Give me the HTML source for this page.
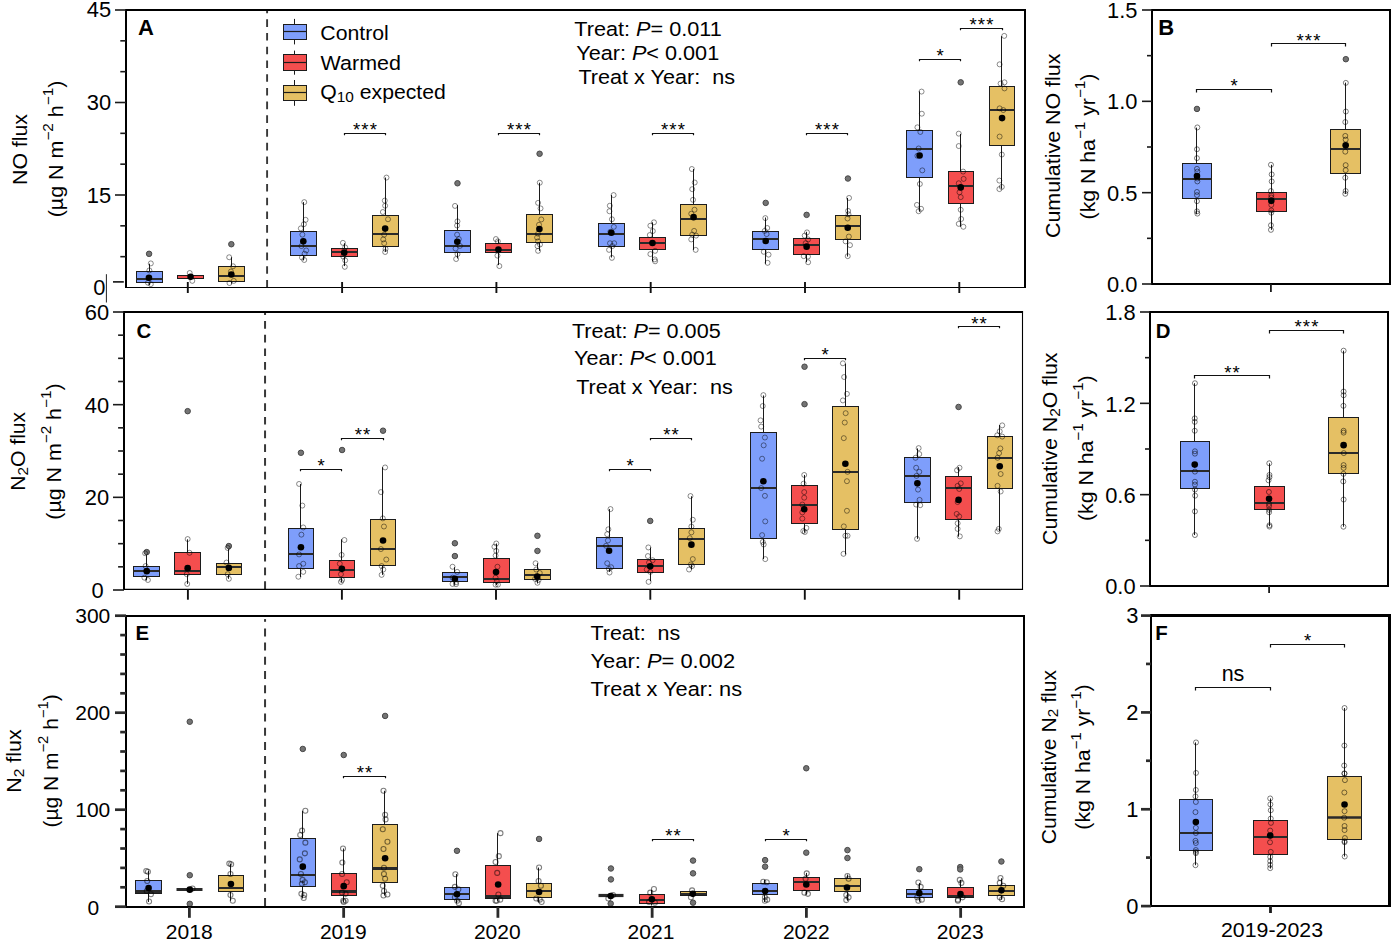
<!DOCTYPE html>
<html><head><meta charset="utf-8"><title>Figure</title>
<style>html,body{margin:0;padding:0;background:#fff}svg{display:block}text{font-family:"Liberation Sans",sans-serif;fill:#000}</style>
</head><body>
<svg width="1398" height="946" viewBox="0 0 1398 946">
<rect width="1398" height="946" fill="#fff"/>
<g id="pA">
<line x1="267.1" y1="10" x2="267.1" y2="287.5" stroke="#383838" stroke-width="1.9" stroke-dasharray="7.6 6.12" stroke-dashoffset="4.42"/>
<line x1="149.5" y1="263.69" x2="149.5" y2="271.5" stroke="#1c1c1c" stroke-width="1.0" />
<line x1="149.5" y1="282.5" x2="149.5" y2="285.15" stroke="#1c1c1c" stroke-width="1.0" />
<rect x="136.5" y="271.5" width="26" height="11" fill="#7e9efb" stroke="#1c1c1c" stroke-width="1"/>
<line x1="136.5" y1="279" x2="162.5" y2="279" stroke="#2a2a2a" stroke-width="2.0" />
<circle cx="149.08" cy="253.82" r="2.75" fill="#747474" stroke="#484848" stroke-width="1"/>
<circle cx="150.8" cy="263.4" r="2.5" fill="none" stroke="#000" stroke-opacity="0.5" stroke-width="0.9"/>
<circle cx="149.37" cy="270.41" r="2.5" fill="none" stroke="#000" stroke-opacity="0.5" stroke-width="0.9"/>
<circle cx="147.94" cy="282.72" r="2.5" fill="none" stroke="#000" stroke-opacity="0.5" stroke-width="0.9"/>
<circle cx="150.8" cy="284.15" r="2.5" fill="none" stroke="#000" stroke-opacity="0.5" stroke-width="0.9"/>
<circle cx="148.94" cy="277.71" r="3.3" fill="#000"/>
<rect x="177.5" y="275.5" width="26" height="3" fill="#f44e4e" stroke="#1c1c1c" stroke-width="1"/>
<circle cx="189.71" cy="272.99" r="2.5" fill="none" stroke="#000" stroke-opacity="0.5" stroke-width="0.9"/>
<circle cx="192.29" cy="280.86" r="2.5" fill="none" stroke="#000" stroke-opacity="0.5" stroke-width="0.9"/>
<circle cx="190.57" cy="276.85" r="3.3" fill="#000"/>
<line x1="231.5" y1="257.25" x2="231.5" y2="266.5" stroke="#1c1c1c" stroke-width="1.0" />
<line x1="231.5" y1="281.5" x2="231.5" y2="283.72" stroke="#1c1c1c" stroke-width="1.0" />
<rect x="218.5" y="266.5" width="26" height="15" fill="#e5c064" stroke="#1c1c1c" stroke-width="1"/>
<line x1="218.5" y1="276" x2="244.5" y2="276" stroke="#2a2a2a" stroke-width="2.0" />
<circle cx="231.34" cy="244.23" r="2.75" fill="#747474" stroke="#484848" stroke-width="1"/>
<circle cx="229.2" cy="257.25" r="2.5" fill="none" stroke="#000" stroke-opacity="0.5" stroke-width="0.9"/>
<circle cx="233.06" cy="266.27" r="2.5" fill="none" stroke="#000" stroke-opacity="0.5" stroke-width="0.9"/>
<circle cx="230.92" cy="271.56" r="2.5" fill="none" stroke="#000" stroke-opacity="0.5" stroke-width="0.9"/>
<circle cx="229.48" cy="283" r="2.5" fill="none" stroke="#000" stroke-opacity="0.5" stroke-width="0.9"/>
<circle cx="233.78" cy="280.86" r="2.5" fill="none" stroke="#000" stroke-opacity="0.5" stroke-width="0.9"/>
<circle cx="231.34" cy="274.56" r="3.3" fill="#000"/>
<line x1="303.5" y1="202.12" x2="303.5" y2="231.5" stroke="#1c1c1c" stroke-width="1.0" />
<line x1="303.5" y1="255.5" x2="303.5" y2="260.36" stroke="#1c1c1c" stroke-width="1.0" />
<rect x="290.5" y="231.5" width="26" height="24" fill="#7e9efb" stroke="#1c1c1c" stroke-width="1"/>
<line x1="290.5" y1="246" x2="316.5" y2="246" stroke="#2a2a2a" stroke-width="2.0" />
<circle cx="304.26" cy="202.12" r="2.5" fill="none" stroke="#000" stroke-opacity="0.5" stroke-width="0.9"/>
<circle cx="305.59" cy="219.82" r="2.5" fill="none" stroke="#000" stroke-opacity="0.5" stroke-width="0.9"/>
<circle cx="303.88" cy="224.2" r="2.5" fill="none" stroke="#000" stroke-opacity="0.5" stroke-width="0.9"/>
<circle cx="300.83" cy="228.39" r="2.5" fill="none" stroke="#000" stroke-opacity="0.5" stroke-width="0.9"/>
<circle cx="302.36" cy="234.67" r="2.5" fill="none" stroke="#000" stroke-opacity="0.5" stroke-width="0.9"/>
<circle cx="301.4" cy="246.09" r="2.5" fill="none" stroke="#000" stroke-opacity="0.5" stroke-width="0.9"/>
<circle cx="306.16" cy="250.46" r="2.5" fill="none" stroke="#000" stroke-opacity="0.5" stroke-width="0.9"/>
<circle cx="304.64" cy="253.7" r="2.5" fill="none" stroke="#000" stroke-opacity="0.5" stroke-width="0.9"/>
<circle cx="301.98" cy="257.51" r="2.5" fill="none" stroke="#000" stroke-opacity="0.5" stroke-width="0.9"/>
<circle cx="304.26" cy="259.98" r="2.5" fill="none" stroke="#000" stroke-opacity="0.5" stroke-width="0.9"/>
<circle cx="303.31" cy="241.33" r="3.3" fill="#000"/>
<line x1="344.5" y1="243.23" x2="344.5" y2="248.5" stroke="#1c1c1c" stroke-width="1.0" />
<line x1="344.5" y1="256.5" x2="344.5" y2="266.07" stroke="#1c1c1c" stroke-width="1.0" />
<rect x="331.5" y="248.5" width="26" height="8" fill="#f44e4e" stroke="#1c1c1c" stroke-width="1"/>
<line x1="331.5" y1="252" x2="357.5" y2="252" stroke="#2a2a2a" stroke-width="2.0" />
<circle cx="342.9" cy="242.85" r="2.5" fill="none" stroke="#000" stroke-opacity="0.5" stroke-width="0.9"/>
<circle cx="345.18" cy="247.42" r="2.5" fill="none" stroke="#000" stroke-opacity="0.5" stroke-width="0.9"/>
<circle cx="344.23" cy="250.85" r="2.5" fill="none" stroke="#000" stroke-opacity="0.5" stroke-width="0.9"/>
<circle cx="343.28" cy="256.56" r="2.5" fill="none" stroke="#000" stroke-opacity="0.5" stroke-width="0.9"/>
<circle cx="345.18" cy="260.36" r="2.5" fill="none" stroke="#000" stroke-opacity="0.5" stroke-width="0.9"/>
<circle cx="344.8" cy="266.83" r="2.5" fill="none" stroke="#000" stroke-opacity="0.5" stroke-width="0.9"/>
<circle cx="344.23" cy="252.75" r="3.3" fill="#000"/>
<line x1="385.5" y1="177.57" x2="385.5" y2="215.5" stroke="#1c1c1c" stroke-width="1.0" />
<line x1="385.5" y1="246.5" x2="385.5" y2="251.8" stroke="#1c1c1c" stroke-width="1.0" />
<rect x="372.5" y="215.5" width="26" height="31" fill="#e5c064" stroke="#1c1c1c" stroke-width="1"/>
<line x1="372.5" y1="234" x2="398.5" y2="234" stroke="#2a2a2a" stroke-width="2.0" />
<circle cx="386.48" cy="177.57" r="2.5" fill="none" stroke="#000" stroke-opacity="0.5" stroke-width="0.9"/>
<circle cx="384.77" cy="200.6" r="2.5" fill="none" stroke="#000" stroke-opacity="0.5" stroke-width="0.9"/>
<circle cx="385.15" cy="205.74" r="2.5" fill="none" stroke="#000" stroke-opacity="0.5" stroke-width="0.9"/>
<circle cx="382.87" cy="212.02" r="2.5" fill="none" stroke="#000" stroke-opacity="0.5" stroke-width="0.9"/>
<circle cx="388.01" cy="219.25" r="2.5" fill="none" stroke="#000" stroke-opacity="0.5" stroke-width="0.9"/>
<circle cx="384.2" cy="234.67" r="2.5" fill="none" stroke="#000" stroke-opacity="0.5" stroke-width="0.9"/>
<circle cx="383.25" cy="239.43" r="2.5" fill="none" stroke="#000" stroke-opacity="0.5" stroke-width="0.9"/>
<circle cx="384.2" cy="243.23" r="2.5" fill="none" stroke="#000" stroke-opacity="0.5" stroke-width="0.9"/>
<circle cx="385.53" cy="248.94" r="2.5" fill="none" stroke="#000" stroke-opacity="0.5" stroke-width="0.9"/>
<circle cx="385.15" cy="251.99" r="2.5" fill="none" stroke="#000" stroke-opacity="0.5" stroke-width="0.9"/>
<circle cx="385.15" cy="228.58" r="3.3" fill="#000"/>
<line x1="457.5" y1="205.17" x2="457.5" y2="230.5" stroke="#1c1c1c" stroke-width="1.0" />
<line x1="457.5" y1="252.5" x2="457.5" y2="258.46" stroke="#1c1c1c" stroke-width="1.0" />
<rect x="444.5" y="230.5" width="26" height="22" fill="#7e9efb" stroke="#1c1c1c" stroke-width="1"/>
<line x1="444.5" y1="246" x2="470.5" y2="246" stroke="#2a2a2a" stroke-width="2.0" />
<circle cx="457.48" cy="183.28" r="2.75" fill="#747474" stroke="#484848" stroke-width="1"/>
<circle cx="455" cy="205.93" r="2.5" fill="none" stroke="#000" stroke-opacity="0.5" stroke-width="0.9"/>
<circle cx="457.48" cy="221.34" r="2.5" fill="none" stroke="#000" stroke-opacity="0.5" stroke-width="0.9"/>
<circle cx="457.1" cy="225.53" r="2.5" fill="none" stroke="#000" stroke-opacity="0.5" stroke-width="0.9"/>
<circle cx="457.1" cy="234.67" r="2.5" fill="none" stroke="#000" stroke-opacity="0.5" stroke-width="0.9"/>
<circle cx="458.81" cy="239.04" r="2.5" fill="none" stroke="#000" stroke-opacity="0.5" stroke-width="0.9"/>
<circle cx="459.95" cy="245.9" r="2.5" fill="none" stroke="#000" stroke-opacity="0.5" stroke-width="0.9"/>
<circle cx="455.57" cy="248.56" r="2.5" fill="none" stroke="#000" stroke-opacity="0.5" stroke-width="0.9"/>
<circle cx="457.48" cy="254.08" r="2.5" fill="none" stroke="#000" stroke-opacity="0.5" stroke-width="0.9"/>
<circle cx="456.14" cy="259.03" r="2.5" fill="none" stroke="#000" stroke-opacity="0.5" stroke-width="0.9"/>
<circle cx="457.29" cy="241.71" r="3.3" fill="#000"/>
<line x1="498.5" y1="239.43" x2="498.5" y2="243.5" stroke="#1c1c1c" stroke-width="1.0" />
<line x1="498.5" y1="252.5" x2="498.5" y2="265.12" stroke="#1c1c1c" stroke-width="1.0" />
<rect x="485.5" y="243.5" width="26" height="9" fill="#f44e4e" stroke="#1c1c1c" stroke-width="1"/>
<line x1="485.5" y1="250" x2="511.5" y2="250" stroke="#2a2a2a" stroke-width="2.0" />
<circle cx="495.92" cy="239.04" r="2.5" fill="none" stroke="#000" stroke-opacity="0.5" stroke-width="0.9"/>
<circle cx="497.83" cy="241.33" r="2.5" fill="none" stroke="#000" stroke-opacity="0.5" stroke-width="0.9"/>
<circle cx="497.45" cy="255.6" r="2.5" fill="none" stroke="#000" stroke-opacity="0.5" stroke-width="0.9"/>
<circle cx="499.35" cy="266.07" r="2.5" fill="none" stroke="#000" stroke-opacity="0.5" stroke-width="0.9"/>
<circle cx="498.4" cy="249.51" r="3.3" fill="#000"/>
<line x1="539.5" y1="182.71" x2="539.5" y2="214.5" stroke="#1c1c1c" stroke-width="1.0" />
<line x1="539.5" y1="242.5" x2="539.5" y2="250.85" stroke="#1c1c1c" stroke-width="1.0" />
<rect x="526.5" y="214.5" width="26" height="28" fill="#e5c064" stroke="#1c1c1c" stroke-width="1"/>
<line x1="526.5" y1="234" x2="552.5" y2="234" stroke="#2a2a2a" stroke-width="2.0" />
<circle cx="539.59" cy="153.78" r="2.75" fill="#747474" stroke="#484848" stroke-width="1"/>
<circle cx="539.78" cy="182.71" r="2.5" fill="none" stroke="#000" stroke-opacity="0.5" stroke-width="0.9"/>
<circle cx="538.07" cy="202.88" r="2.5" fill="none" stroke="#000" stroke-opacity="0.5" stroke-width="0.9"/>
<circle cx="540.54" cy="208.4" r="2.5" fill="none" stroke="#000" stroke-opacity="0.5" stroke-width="0.9"/>
<circle cx="541.3" cy="219.44" r="2.5" fill="none" stroke="#000" stroke-opacity="0.5" stroke-width="0.9"/>
<circle cx="539.02" cy="224.77" r="2.5" fill="none" stroke="#000" stroke-opacity="0.5" stroke-width="0.9"/>
<circle cx="538.07" cy="233.72" r="2.5" fill="none" stroke="#000" stroke-opacity="0.5" stroke-width="0.9"/>
<circle cx="537.11" cy="237.52" r="2.5" fill="none" stroke="#000" stroke-opacity="0.5" stroke-width="0.9"/>
<circle cx="538.07" cy="241.33" r="2.5" fill="none" stroke="#000" stroke-opacity="0.5" stroke-width="0.9"/>
<circle cx="537.5" cy="246.09" r="2.5" fill="none" stroke="#000" stroke-opacity="0.5" stroke-width="0.9"/>
<circle cx="539.97" cy="244.56" r="2.5" fill="none" stroke="#000" stroke-opacity="0.5" stroke-width="0.9"/>
<circle cx="538.07" cy="250.85" r="2.5" fill="none" stroke="#000" stroke-opacity="0.5" stroke-width="0.9"/>
<circle cx="539.4" cy="228.96" r="3.3" fill="#000"/>
<line x1="611.5" y1="195.08" x2="611.5" y2="223.5" stroke="#1c1c1c" stroke-width="1.0" />
<line x1="611.5" y1="246.5" x2="611.5" y2="257.51" stroke="#1c1c1c" stroke-width="1.0" />
<rect x="598.5" y="223.5" width="26" height="23" fill="#7e9efb" stroke="#1c1c1c" stroke-width="1"/>
<line x1="598.5" y1="234" x2="624.5" y2="234" stroke="#2a2a2a" stroke-width="2.0" />
<circle cx="613.63" cy="195.08" r="2.5" fill="none" stroke="#000" stroke-opacity="0.5" stroke-width="0.9"/>
<circle cx="609.82" cy="205.74" r="2.5" fill="none" stroke="#000" stroke-opacity="0.5" stroke-width="0.9"/>
<circle cx="609.44" cy="211.26" r="2.5" fill="none" stroke="#000" stroke-opacity="0.5" stroke-width="0.9"/>
<circle cx="611.91" cy="219.25" r="2.5" fill="none" stroke="#000" stroke-opacity="0.5" stroke-width="0.9"/>
<circle cx="613.82" cy="226.86" r="2.5" fill="none" stroke="#000" stroke-opacity="0.5" stroke-width="0.9"/>
<circle cx="610.39" cy="231.81" r="2.5" fill="none" stroke="#000" stroke-opacity="0.5" stroke-width="0.9"/>
<circle cx="610.01" cy="243.23" r="2.5" fill="none" stroke="#000" stroke-opacity="0.5" stroke-width="0.9"/>
<circle cx="614.2" cy="243.23" r="2.5" fill="none" stroke="#000" stroke-opacity="0.5" stroke-width="0.9"/>
<circle cx="612.3" cy="246.09" r="2.5" fill="none" stroke="#000" stroke-opacity="0.5" stroke-width="0.9"/>
<circle cx="609.06" cy="249.89" r="2.5" fill="none" stroke="#000" stroke-opacity="0.5" stroke-width="0.9"/>
<circle cx="611.91" cy="257.89" r="2.5" fill="none" stroke="#000" stroke-opacity="0.5" stroke-width="0.9"/>
<circle cx="611.34" cy="232.76" r="3.3" fill="#000"/>
<line x1="652.5" y1="222.3" x2="652.5" y2="237.5" stroke="#1c1c1c" stroke-width="1.0" />
<line x1="652.5" y1="249.5" x2="652.5" y2="261.31" stroke="#1c1c1c" stroke-width="1.0" />
<rect x="639.5" y="237.5" width="26" height="12" fill="#f44e4e" stroke="#1c1c1c" stroke-width="1"/>
<line x1="639.5" y1="243" x2="665.5" y2="243" stroke="#2a2a2a" stroke-width="2.0" />
<circle cx="653.98" cy="222.3" r="2.5" fill="none" stroke="#000" stroke-opacity="0.5" stroke-width="0.9"/>
<circle cx="650.36" cy="225.72" r="2.5" fill="none" stroke="#000" stroke-opacity="0.5" stroke-width="0.9"/>
<circle cx="652.84" cy="231.05" r="2.5" fill="none" stroke="#000" stroke-opacity="0.5" stroke-width="0.9"/>
<circle cx="649.79" cy="235.05" r="2.5" fill="none" stroke="#000" stroke-opacity="0.5" stroke-width="0.9"/>
<circle cx="655.12" cy="250.85" r="2.5" fill="none" stroke="#000" stroke-opacity="0.5" stroke-width="0.9"/>
<circle cx="650.36" cy="254.08" r="2.5" fill="none" stroke="#000" stroke-opacity="0.5" stroke-width="0.9"/>
<circle cx="654.74" cy="259.41" r="2.5" fill="none" stroke="#000" stroke-opacity="0.5" stroke-width="0.9"/>
<circle cx="655.12" cy="261.31" r="2.5" fill="none" stroke="#000" stroke-opacity="0.5" stroke-width="0.9"/>
<circle cx="652.46" cy="243.04" r="3.3" fill="#000"/>
<line x1="693.5" y1="169" x2="693.5" y2="204.5" stroke="#1c1c1c" stroke-width="1.0" />
<line x1="693.5" y1="235.5" x2="693.5" y2="249.89" stroke="#1c1c1c" stroke-width="1.0" />
<rect x="680.5" y="204.5" width="26" height="31" fill="#e5c064" stroke="#1c1c1c" stroke-width="1"/>
<line x1="680.5" y1="219" x2="706.5" y2="219" stroke="#2a2a2a" stroke-width="2.0" />
<circle cx="691.85" cy="169" r="2.5" fill="none" stroke="#000" stroke-opacity="0.5" stroke-width="0.9"/>
<circle cx="694.71" cy="182.52" r="2.5" fill="none" stroke="#000" stroke-opacity="0.5" stroke-width="0.9"/>
<circle cx="692.23" cy="189.18" r="2.5" fill="none" stroke="#000" stroke-opacity="0.5" stroke-width="0.9"/>
<circle cx="693" cy="199.84" r="2.5" fill="none" stroke="#000" stroke-opacity="0.5" stroke-width="0.9"/>
<circle cx="694.52" cy="209.73" r="2.5" fill="none" stroke="#000" stroke-opacity="0.5" stroke-width="0.9"/>
<circle cx="691.28" cy="213.73" r="2.5" fill="none" stroke="#000" stroke-opacity="0.5" stroke-width="0.9"/>
<circle cx="694.14" cy="230.86" r="2.5" fill="none" stroke="#000" stroke-opacity="0.5" stroke-width="0.9"/>
<circle cx="692.23" cy="234.67" r="2.5" fill="none" stroke="#000" stroke-opacity="0.5" stroke-width="0.9"/>
<circle cx="696.04" cy="235.62" r="2.5" fill="none" stroke="#000" stroke-opacity="0.5" stroke-width="0.9"/>
<circle cx="691.28" cy="239.43" r="2.5" fill="none" stroke="#000" stroke-opacity="0.5" stroke-width="0.9"/>
<circle cx="695.66" cy="249.89" r="2.5" fill="none" stroke="#000" stroke-opacity="0.5" stroke-width="0.9"/>
<circle cx="693.57" cy="217.16" r="3.3" fill="#000"/>
<line x1="765.5" y1="217.54" x2="765.5" y2="231.5" stroke="#1c1c1c" stroke-width="1.0" />
<line x1="765.5" y1="249.5" x2="765.5" y2="263.79" stroke="#1c1c1c" stroke-width="1.0" />
<rect x="752.5" y="231.5" width="26" height="18" fill="#7e9efb" stroke="#1c1c1c" stroke-width="1"/>
<line x1="752.5" y1="239" x2="778.5" y2="239" stroke="#2a2a2a" stroke-width="2.0" />
<circle cx="765.69" cy="202.88" r="2.75" fill="#747474" stroke="#484848" stroke-width="1"/>
<circle cx="765.31" cy="218.11" r="2.5" fill="none" stroke="#000" stroke-opacity="0.5" stroke-width="0.9"/>
<circle cx="767.22" cy="228.01" r="2.5" fill="none" stroke="#000" stroke-opacity="0.5" stroke-width="0.9"/>
<circle cx="764.74" cy="230.86" r="2.5" fill="none" stroke="#000" stroke-opacity="0.5" stroke-width="0.9"/>
<circle cx="766.65" cy="234.1" r="2.5" fill="none" stroke="#000" stroke-opacity="0.5" stroke-width="0.9"/>
<circle cx="763.79" cy="251.8" r="2.5" fill="none" stroke="#000" stroke-opacity="0.5" stroke-width="0.9"/>
<circle cx="768.55" cy="254.65" r="2.5" fill="none" stroke="#000" stroke-opacity="0.5" stroke-width="0.9"/>
<circle cx="767.6" cy="262.84" r="2.5" fill="none" stroke="#000" stroke-opacity="0.5" stroke-width="0.9"/>
<circle cx="765.69" cy="240.95" r="3.3" fill="#000"/>
<line x1="806.5" y1="231.81" x2="806.5" y2="238.5" stroke="#1c1c1c" stroke-width="1.0" />
<line x1="806.5" y1="254.5" x2="806.5" y2="262.26" stroke="#1c1c1c" stroke-width="1.0" />
<rect x="793.5" y="238.5" width="26" height="16" fill="#f44e4e" stroke="#1c1c1c" stroke-width="1"/>
<line x1="793.5" y1="245" x2="819.5" y2="245" stroke="#2a2a2a" stroke-width="2.0" />
<circle cx="806.62" cy="214.87" r="2.75" fill="#747474" stroke="#484848" stroke-width="1"/>
<circle cx="807" cy="232.38" r="2.5" fill="none" stroke="#000" stroke-opacity="0.5" stroke-width="0.9"/>
<circle cx="804.71" cy="235.62" r="2.5" fill="none" stroke="#000" stroke-opacity="0.5" stroke-width="0.9"/>
<circle cx="808.14" cy="239.43" r="2.5" fill="none" stroke="#000" stroke-opacity="0.5" stroke-width="0.9"/>
<circle cx="805.66" cy="243.23" r="2.5" fill="none" stroke="#000" stroke-opacity="0.5" stroke-width="0.9"/>
<circle cx="803.76" cy="256.17" r="2.5" fill="none" stroke="#000" stroke-opacity="0.5" stroke-width="0.9"/>
<circle cx="807.95" cy="256.56" r="2.5" fill="none" stroke="#000" stroke-opacity="0.5" stroke-width="0.9"/>
<circle cx="808.14" cy="262.26" r="2.5" fill="none" stroke="#000" stroke-opacity="0.5" stroke-width="0.9"/>
<circle cx="806.62" cy="246.66" r="3.3" fill="#000"/>
<line x1="847.5" y1="197.93" x2="847.5" y2="215.5" stroke="#1c1c1c" stroke-width="1.0" />
<line x1="847.5" y1="239.5" x2="847.5" y2="256.56" stroke="#1c1c1c" stroke-width="1.0" />
<rect x="835.5" y="215.5" width="25" height="24" fill="#e5c064" stroke="#1c1c1c" stroke-width="1"/>
<line x1="835.5" y1="226" x2="860.5" y2="226" stroke="#2a2a2a" stroke-width="2.0" />
<circle cx="847.92" cy="178.52" r="2.75" fill="#747474" stroke="#484848" stroke-width="1"/>
<circle cx="849.06" cy="197.93" r="2.5" fill="none" stroke="#000" stroke-opacity="0.5" stroke-width="0.9"/>
<circle cx="848.11" cy="210.88" r="2.5" fill="none" stroke="#000" stroke-opacity="0.5" stroke-width="0.9"/>
<circle cx="848.49" cy="214.3" r="2.5" fill="none" stroke="#000" stroke-opacity="0.5" stroke-width="0.9"/>
<circle cx="847.54" cy="218.49" r="2.5" fill="none" stroke="#000" stroke-opacity="0.5" stroke-width="0.9"/>
<circle cx="848.87" cy="236.57" r="2.5" fill="none" stroke="#000" stroke-opacity="0.5" stroke-width="0.9"/>
<circle cx="845.63" cy="241.33" r="2.5" fill="none" stroke="#000" stroke-opacity="0.5" stroke-width="0.9"/>
<circle cx="850.01" cy="245.14" r="2.5" fill="none" stroke="#000" stroke-opacity="0.5" stroke-width="0.9"/>
<circle cx="847.73" cy="256.17" r="2.5" fill="none" stroke="#000" stroke-opacity="0.5" stroke-width="0.9"/>
<circle cx="847.73" cy="227.81" r="3.3" fill="#000"/>
<line x1="919.5" y1="91.33" x2="919.5" y2="130.5" stroke="#1c1c1c" stroke-width="1.0" />
<line x1="919.5" y1="177.5" x2="919.5" y2="211.71" stroke="#1c1c1c" stroke-width="1.0" />
<rect x="906.5" y="130.5" width="26" height="47" fill="#7e9efb" stroke="#1c1c1c" stroke-width="1"/>
<line x1="906.5" y1="149" x2="932.5" y2="149" stroke="#2a2a2a" stroke-width="2.0" />
<circle cx="921.56" cy="91.58" r="2.5" fill="none" stroke="#000" stroke-opacity="0.5" stroke-width="0.9"/>
<circle cx="921.8" cy="113.71" r="2.5" fill="none" stroke="#000" stroke-opacity="0.5" stroke-width="0.9"/>
<circle cx="917.42" cy="127.32" r="2.5" fill="none" stroke="#000" stroke-opacity="0.5" stroke-width="0.9"/>
<circle cx="920.34" cy="131.95" r="2.5" fill="none" stroke="#000" stroke-opacity="0.5" stroke-width="0.9"/>
<circle cx="918.64" cy="148.48" r="2.5" fill="none" stroke="#000" stroke-opacity="0.5" stroke-width="0.9"/>
<circle cx="917.42" cy="155.78" r="2.5" fill="none" stroke="#000" stroke-opacity="0.5" stroke-width="0.9"/>
<circle cx="922.29" cy="170.37" r="2.5" fill="none" stroke="#000" stroke-opacity="0.5" stroke-width="0.9"/>
<circle cx="919.85" cy="183.99" r="2.5" fill="none" stroke="#000" stroke-opacity="0.5" stroke-width="0.9"/>
<circle cx="916.94" cy="204.9" r="2.5" fill="none" stroke="#000" stroke-opacity="0.5" stroke-width="0.9"/>
<circle cx="921.07" cy="208.79" r="2.5" fill="none" stroke="#000" stroke-opacity="0.5" stroke-width="0.9"/>
<circle cx="918.64" cy="211.23" r="2.5" fill="none" stroke="#000" stroke-opacity="0.5" stroke-width="0.9"/>
<circle cx="919.61" cy="155.54" r="3.3" fill="#000"/>
<line x1="960.5" y1="133.89" x2="960.5" y2="171.5" stroke="#1c1c1c" stroke-width="1.0" />
<line x1="960.5" y1="203.5" x2="960.5" y2="226.79" stroke="#1c1c1c" stroke-width="1.0" />
<rect x="948.5" y="171.5" width="25" height="32" fill="#f44e4e" stroke="#1c1c1c" stroke-width="1"/>
<line x1="948.5" y1="186" x2="973.5" y2="186" stroke="#2a2a2a" stroke-width="2.0" />
<circle cx="960.71" cy="82.33" r="2.75" fill="#747474" stroke="#484848" stroke-width="1"/>
<circle cx="958.76" cy="133.65" r="2.5" fill="none" stroke="#000" stroke-opacity="0.5" stroke-width="0.9"/>
<circle cx="958.76" cy="146.05" r="2.5" fill="none" stroke="#000" stroke-opacity="0.5" stroke-width="0.9"/>
<circle cx="963.14" cy="171.59" r="2.5" fill="none" stroke="#000" stroke-opacity="0.5" stroke-width="0.9"/>
<circle cx="963.63" cy="178.88" r="2.5" fill="none" stroke="#000" stroke-opacity="0.5" stroke-width="0.9"/>
<circle cx="958.76" cy="183.26" r="2.5" fill="none" stroke="#000" stroke-opacity="0.5" stroke-width="0.9"/>
<circle cx="959.49" cy="192.26" r="2.5" fill="none" stroke="#000" stroke-opacity="0.5" stroke-width="0.9"/>
<circle cx="960.71" cy="197.12" r="2.5" fill="none" stroke="#000" stroke-opacity="0.5" stroke-width="0.9"/>
<circle cx="960.71" cy="209.77" r="2.5" fill="none" stroke="#000" stroke-opacity="0.5" stroke-width="0.9"/>
<circle cx="961.2" cy="219.01" r="2.5" fill="none" stroke="#000" stroke-opacity="0.5" stroke-width="0.9"/>
<circle cx="958.76" cy="223.87" r="2.5" fill="none" stroke="#000" stroke-opacity="0.5" stroke-width="0.9"/>
<circle cx="963.39" cy="226.79" r="2.5" fill="none" stroke="#000" stroke-opacity="0.5" stroke-width="0.9"/>
<circle cx="960.71" cy="187.39" r="3.3" fill="#000"/>
<line x1="1001.5" y1="36.13" x2="1001.5" y2="86.5" stroke="#1c1c1c" stroke-width="1.0" />
<line x1="1001.5" y1="145.5" x2="1001.5" y2="188.61" stroke="#1c1c1c" stroke-width="1.0" />
<rect x="989.5" y="86.5" width="25" height="59" fill="#e5c064" stroke="#1c1c1c" stroke-width="1"/>
<line x1="989.5" y1="110" x2="1014.5" y2="110" stroke="#2a2a2a" stroke-width="2.0" />
<circle cx="1004.24" cy="35.89" r="2.5" fill="none" stroke="#000" stroke-opacity="0.5" stroke-width="0.9"/>
<circle cx="999.62" cy="64.34" r="2.5" fill="none" stroke="#000" stroke-opacity="0.5" stroke-width="0.9"/>
<circle cx="1004.48" cy="82.33" r="2.5" fill="none" stroke="#000" stroke-opacity="0.5" stroke-width="0.9"/>
<circle cx="1000.59" cy="83.55" r="2.5" fill="none" stroke="#000" stroke-opacity="0.5" stroke-width="0.9"/>
<circle cx="1004.48" cy="88.41" r="2.5" fill="none" stroke="#000" stroke-opacity="0.5" stroke-width="0.9"/>
<circle cx="999.62" cy="108.36" r="2.5" fill="none" stroke="#000" stroke-opacity="0.5" stroke-width="0.9"/>
<circle cx="1003.27" cy="110.06" r="2.5" fill="none" stroke="#000" stroke-opacity="0.5" stroke-width="0.9"/>
<circle cx="999.62" cy="136.57" r="2.5" fill="none" stroke="#000" stroke-opacity="0.5" stroke-width="0.9"/>
<circle cx="1001.81" cy="154.56" r="2.5" fill="none" stroke="#000" stroke-opacity="0.5" stroke-width="0.9"/>
<circle cx="999.38" cy="180.58" r="2.5" fill="none" stroke="#000" stroke-opacity="0.5" stroke-width="0.9"/>
<circle cx="1001.81" cy="186.91" r="2.5" fill="none" stroke="#000" stroke-opacity="0.5" stroke-width="0.9"/>
<circle cx="999.38" cy="189.1" r="2.5" fill="none" stroke="#000" stroke-opacity="0.5" stroke-width="0.9"/>
<circle cx="1002.05" cy="118.08" r="3.3" fill="#000"/>
<line x1="126" y1="9" x2="126" y2="288.1" stroke="#000" stroke-width="2" />
<line x1="1025" y1="9" x2="1025" y2="288.1" stroke="#000" stroke-width="2" />
<line x1="125" y1="10" x2="1026" y2="10" stroke="#000" stroke-width="2" />
<line x1="125" y1="287.5" x2="1026" y2="287.5" stroke="#000" stroke-width="1.2" />
<line x1="120.3" y1="256.67" x2="126" y2="256.67" stroke="#1a1a1a" stroke-width="1.6" />
<line x1="120.3" y1="225.83" x2="126" y2="225.83" stroke="#1a1a1a" stroke-width="1.6" />
<line x1="115" y1="195" x2="126" y2="195" stroke="#1a1a1a" stroke-width="1.6" />
<text x="111.2" y="202.88" font-size="21.9" text-anchor="end" >15</text>
<line x1="120.3" y1="164.17" x2="126" y2="164.17" stroke="#1a1a1a" stroke-width="1.6" />
<line x1="120.3" y1="133.33" x2="126" y2="133.33" stroke="#1a1a1a" stroke-width="1.6" />
<line x1="115" y1="102.5" x2="126" y2="102.5" stroke="#1a1a1a" stroke-width="1.6" />
<text x="111.2" y="110.38" font-size="21.9" text-anchor="end" >30</text>
<line x1="120.3" y1="71.67" x2="126" y2="71.67" stroke="#1a1a1a" stroke-width="1.6" />
<line x1="120.3" y1="40.83" x2="126" y2="40.83" stroke="#1a1a1a" stroke-width="1.6" />
<line x1="115" y1="10" x2="126" y2="10" stroke="#1a1a1a" stroke-width="1.6" />
<text x="111.2" y="16.78" font-size="21.9" text-anchor="end" >45</text>
<line x1="113" y1="281.9" x2="123.8" y2="281.9" stroke="#000" stroke-width="1.5" />
<text x="105.4" y="295.38" font-size="21.9" text-anchor="end" >0</text>
<line x1="106.4" y1="274.2" x2="106.4" y2="302.5" stroke="#222" stroke-width="1.0" />
<line x1="187.8" y1="282" x2="187.8" y2="293" stroke="#111" stroke-width="1.9" />
<line x1="342.1" y1="282" x2="342.1" y2="293" stroke="#111" stroke-width="1.9" />
<line x1="496.4" y1="282" x2="496.4" y2="293" stroke="#111" stroke-width="1.9" />
<line x1="650.7" y1="282" x2="650.7" y2="293" stroke="#111" stroke-width="1.9" />
<line x1="805" y1="282" x2="805" y2="293" stroke="#111" stroke-width="1.9" />
<line x1="959.3" y1="282" x2="959.3" y2="293" stroke="#111" stroke-width="1.9" />
<text x="138" y="34.8" font-size="22" text-anchor="start" font-weight="bold">A</text>
<line x1="294.5" y1="18.9" x2="294.5" y2="44.4" stroke="#1c1c1c" stroke-width="1.0" />
<rect x="283.5" y="24.5" width="23" height="15" fill="#7e9efb" stroke="#1c1c1c" stroke-width="1"/>
<line x1="283.5" y1="31.5" x2="306.5" y2="31.5" stroke="#1c1c1c" stroke-width="1.2" />
<line x1="294.5" y1="50.6" x2="294.5" y2="74.7" stroke="#1c1c1c" stroke-width="1.0" />
<rect x="283.5" y="54.5" width="23" height="16" fill="#f44e4e" stroke="#1c1c1c" stroke-width="1"/>
<line x1="283.5" y1="62.5" x2="306.5" y2="62.5" stroke="#1c1c1c" stroke-width="1.2" />
<line x1="294.5" y1="80" x2="294.5" y2="105.8" stroke="#1c1c1c" stroke-width="1.0" />
<rect x="283.5" y="85.5" width="23" height="15" fill="#e5c064" stroke="#1c1c1c" stroke-width="1"/>
<line x1="283.5" y1="92.5" x2="306.5" y2="92.5" stroke="#1c1c1c" stroke-width="1.2" />
<text x="320.3" y="39.9" font-size="20.1" text-anchor="start" textLength="68.5" lengthAdjust="spacingAndGlyphs" >Control</text>
<text x="320.6" y="69.9" font-size="20.1" text-anchor="start" textLength="80.3" lengthAdjust="spacingAndGlyphs" >Warmed</text>
<text x="320.3" y="98.8" font-size="20.1" text-anchor="start" textLength="125.5" lengthAdjust="spacingAndGlyphs" xml:space="preserve">Q<tspan dy="2.8" font-size="14.6">10</tspan><tspan dy="-2.8"> expected</tspan></text>
<text x="574.3" y="35.7" font-size="20.1" text-anchor="start" textLength="147.5" lengthAdjust="spacingAndGlyphs" >Treat: <tspan font-style="italic">P</tspan>= 0.011</text>
<text x="576.2" y="59.9" font-size="20.1" text-anchor="start" textLength="143" lengthAdjust="spacingAndGlyphs" >Year: <tspan font-style="italic">P</tspan>&lt; 0.001</text>
<text x="578.4" y="84.4" font-size="20.1" text-anchor="start" textLength="156.6" lengthAdjust="spacingAndGlyphs" xml:space="preserve">Treat x Year:  ns</text>
<polyline points="344.5,135.2 344.5,133.5 385.5,133.5 385.5,135.2" fill="none" stroke="#111" stroke-width="1.2"/>
<text x="365.55" y="136.25" font-size="18.6" letter-spacing="1.1" text-anchor="middle">***</text>
<polyline points="498.5,135.2 498.5,133.5 539.5,133.5 539.5,135.2" fill="none" stroke="#111" stroke-width="1.2"/>
<text x="519.55" y="136.25" font-size="18.6" letter-spacing="1.1" text-anchor="middle">***</text>
<polyline points="652.5,135.2 652.5,133.5 693.5,133.5 693.5,135.2" fill="none" stroke="#111" stroke-width="1.2"/>
<text x="673.55" y="136.25" font-size="18.6" letter-spacing="1.1" text-anchor="middle">***</text>
<polyline points="806.5,135.2 806.5,133.5 847.5,133.5 847.5,135.2" fill="none" stroke="#111" stroke-width="1.2"/>
<text x="827.55" y="136.25" font-size="18.6" letter-spacing="1.1" text-anchor="middle">***</text>
<polyline points="919.5,61.2 919.5,59.5 960.5,59.5 960.5,61.2" fill="none" stroke="#111" stroke-width="1.2"/>
<text x="940.55" y="61.95" font-size="18.6" letter-spacing="1.1" text-anchor="middle">*</text>
<polyline points="960.5,30.2 960.5,28.5 1002.5,28.5 1002.5,30.2" fill="none" stroke="#111" stroke-width="1.2"/>
<text x="982.05" y="31.05" font-size="18.6" letter-spacing="1.1" text-anchor="middle">***</text>
</g>
<g id="pB">
<line x1="1196.5" y1="127.61" x2="1196.5" y2="163.5" stroke="#1c1c1c" stroke-width="1.0" />
<line x1="1196.5" y1="198.5" x2="1196.5" y2="214.15" stroke="#1c1c1c" stroke-width="1.0" />
<rect x="1182.5" y="163.5" width="29" height="35" fill="#7e9efb" stroke="#1c1c1c" stroke-width="1"/>
<line x1="1182.5" y1="179" x2="1211.5" y2="179" stroke="#2a2a2a" stroke-width="2.0" />
<circle cx="1196.96" cy="108.93" r="2.75" fill="#747474" stroke="#484848" stroke-width="1"/>
<circle cx="1197.33" cy="127.43" r="2.5" fill="none" stroke="#000" stroke-opacity="0.5" stroke-width="1.0"/>
<circle cx="1196.96" cy="149.25" r="2.5" fill="none" stroke="#000" stroke-opacity="0.5" stroke-width="1.0"/>
<circle cx="1196.96" cy="158.13" r="2.5" fill="none" stroke="#000" stroke-opacity="0.5" stroke-width="1.0"/>
<circle cx="1196.96" cy="168.84" r="2.5" fill="none" stroke="#000" stroke-opacity="0.5" stroke-width="1.0"/>
<circle cx="1197.33" cy="171.61" r="2.5" fill="none" stroke="#000" stroke-opacity="0.5" stroke-width="1.0"/>
<circle cx="1197.33" cy="178.46" r="2.5" fill="none" stroke="#000" stroke-opacity="0.5" stroke-width="1.0"/>
<circle cx="1197.33" cy="181.41" r="2.5" fill="none" stroke="#000" stroke-opacity="0.5" stroke-width="1.0"/>
<circle cx="1196.96" cy="191.96" r="2.5" fill="none" stroke="#000" stroke-opacity="0.5" stroke-width="1.0"/>
<circle cx="1196.96" cy="195.1" r="2.5" fill="none" stroke="#000" stroke-opacity="0.5" stroke-width="1.0"/>
<circle cx="1196.96" cy="201.2" r="2.5" fill="none" stroke="#000" stroke-opacity="0.5" stroke-width="1.0"/>
<circle cx="1196.96" cy="211.38" r="2.5" fill="none" stroke="#000" stroke-opacity="0.5" stroke-width="1.0"/>
<circle cx="1197.33" cy="213.6" r="2.5" fill="none" stroke="#000" stroke-opacity="0.5" stroke-width="1.0"/>
<circle cx="1196.96" cy="176.05" r="3.3" fill="#000"/>
<line x1="1271.5" y1="164.77" x2="1271.5" y2="192.5" stroke="#1c1c1c" stroke-width="1.0" />
<line x1="1271.5" y1="211.5" x2="1271.5" y2="229.87" stroke="#1c1c1c" stroke-width="1.0" />
<rect x="1256.5" y="192.5" width="30" height="19" fill="#f44e4e" stroke="#1c1c1c" stroke-width="1"/>
<line x1="1256.5" y1="199" x2="1286.5" y2="199" stroke="#2a2a2a" stroke-width="2.0" />
<circle cx="1270.94" cy="164.77" r="2.5" fill="none" stroke="#000" stroke-opacity="0.5" stroke-width="1.0"/>
<circle cx="1271.68" cy="174.39" r="2.5" fill="none" stroke="#000" stroke-opacity="0.5" stroke-width="1.0"/>
<circle cx="1271.68" cy="181.41" r="2.5" fill="none" stroke="#000" stroke-opacity="0.5" stroke-width="1.0"/>
<circle cx="1270.94" cy="191.03" r="2.5" fill="none" stroke="#000" stroke-opacity="0.5" stroke-width="1.0"/>
<circle cx="1271.31" cy="195.1" r="2.5" fill="none" stroke="#000" stroke-opacity="0.5" stroke-width="1.0"/>
<circle cx="1271.31" cy="197.51" r="2.5" fill="none" stroke="#000" stroke-opacity="0.5" stroke-width="1.0"/>
<circle cx="1271.31" cy="204.9" r="2.5" fill="none" stroke="#000" stroke-opacity="0.5" stroke-width="1.0"/>
<circle cx="1271.31" cy="210.45" r="2.5" fill="none" stroke="#000" stroke-opacity="0.5" stroke-width="1.0"/>
<circle cx="1271.31" cy="212.67" r="2.5" fill="none" stroke="#000" stroke-opacity="0.5" stroke-width="1.0"/>
<circle cx="1270.94" cy="225.25" r="2.5" fill="none" stroke="#000" stroke-opacity="0.5" stroke-width="1.0"/>
<circle cx="1270.94" cy="229.87" r="2.5" fill="none" stroke="#000" stroke-opacity="0.5" stroke-width="1.0"/>
<circle cx="1271.31" cy="200.83" r="3.3" fill="#000"/>
<line x1="1345.5" y1="82.67" x2="1345.5" y2="129.5" stroke="#1c1c1c" stroke-width="1.0" />
<line x1="1345.5" y1="173.5" x2="1345.5" y2="193.81" stroke="#1c1c1c" stroke-width="1.0" />
<rect x="1330.5" y="129.5" width="30" height="44" fill="#e5c064" stroke="#1c1c1c" stroke-width="1"/>
<line x1="1330.5" y1="149" x2="1360.5" y2="149" stroke="#2a2a2a" stroke-width="2.0" />
<circle cx="1345.84" cy="59.18" r="2.75" fill="#747474" stroke="#484848" stroke-width="1"/>
<circle cx="1345.84" cy="82.86" r="2.5" fill="none" stroke="#000" stroke-opacity="0.5" stroke-width="1.0"/>
<circle cx="1345.84" cy="111.52" r="2.5" fill="none" stroke="#000" stroke-opacity="0.5" stroke-width="1.0"/>
<circle cx="1345.29" cy="122.06" r="2.5" fill="none" stroke="#000" stroke-opacity="0.5" stroke-width="1.0"/>
<circle cx="1345.29" cy="135.93" r="2.5" fill="none" stroke="#000" stroke-opacity="0.5" stroke-width="1.0"/>
<circle cx="1345.66" cy="139.63" r="2.5" fill="none" stroke="#000" stroke-opacity="0.5" stroke-width="1.0"/>
<circle cx="1345.29" cy="151.66" r="2.5" fill="none" stroke="#000" stroke-opacity="0.5" stroke-width="1.0"/>
<circle cx="1345.66" cy="165.16" r="2.5" fill="none" stroke="#000" stroke-opacity="0.5" stroke-width="1.0"/>
<circle cx="1345.66" cy="170.15" r="2.5" fill="none" stroke="#000" stroke-opacity="0.5" stroke-width="1.0"/>
<circle cx="1345.29" cy="177.72" r="2.5" fill="none" stroke="#000" stroke-opacity="0.5" stroke-width="1.0"/>
<circle cx="1345.66" cy="191.03" r="2.5" fill="none" stroke="#000" stroke-opacity="0.5" stroke-width="1.0"/>
<circle cx="1345.29" cy="193.81" r="2.5" fill="none" stroke="#000" stroke-opacity="0.5" stroke-width="1.0"/>
<circle cx="1345.66" cy="145.37" r="3.3" fill="#000"/>
<line x1="1152" y1="9" x2="1152" y2="285" stroke="#000" stroke-width="2" />
<line x1="1390" y1="9" x2="1390" y2="285" stroke="#000" stroke-width="2" />
<line x1="1151" y1="10" x2="1391" y2="10" stroke="#000" stroke-width="2" />
<line x1="1151" y1="284" x2="1391" y2="284" stroke="#000" stroke-width="2" />
<line x1="1142" y1="284" x2="1152" y2="284" stroke="#1a1a1a" stroke-width="1.6" />
<text x="1137.5" y="291.88" font-size="21.9" text-anchor="end" >0.0</text>
<line x1="1147" y1="238.33" x2="1152" y2="238.33" stroke="#1a1a1a" stroke-width="1.6" />
<line x1="1142" y1="192.67" x2="1152" y2="192.67" stroke="#1a1a1a" stroke-width="1.6" />
<text x="1137.5" y="200.55" font-size="21.9" text-anchor="end" >0.5</text>
<line x1="1147" y1="147" x2="1152" y2="147" stroke="#1a1a1a" stroke-width="1.6" />
<line x1="1142" y1="101.33" x2="1152" y2="101.33" stroke="#1a1a1a" stroke-width="1.6" />
<text x="1137.5" y="109.22" font-size="21.9" text-anchor="end" >1.0</text>
<line x1="1147" y1="55.67" x2="1152" y2="55.67" stroke="#1a1a1a" stroke-width="1.6" />
<line x1="1142" y1="10" x2="1152" y2="10" stroke="#1a1a1a" stroke-width="1.6" />
<text x="1137.5" y="17.88" font-size="21.9" text-anchor="end" >1.5</text>
<line x1="1270.9" y1="284" x2="1270.9" y2="292" stroke="#1a1a1a" stroke-width="1.8" />
<text x="1158.3" y="34.8" font-size="22" text-anchor="start" font-weight="bold">B</text>
<polyline points="1271.5,46.6 1271.5,43.5 1345.5,43.5 1345.5,46.6" fill="none" stroke="#111" stroke-width="1.2"/>
<text x="1309.05" y="47.05" font-size="18.6" letter-spacing="1.1" text-anchor="middle">***</text>
<polyline points="1196.5,92.6 1196.5,89.5 1271.5,89.5 1271.5,92.6" fill="none" stroke="#111" stroke-width="1.2"/>
<text x="1234.55" y="91.85" font-size="18.6" letter-spacing="1.1" text-anchor="middle">*</text>
</g>
<g id="pC">
<line x1="265.05" y1="312" x2="265.05" y2="589.4" stroke="#383838" stroke-width="2.0" stroke-dasharray="7.7 6.0" stroke-dashoffset="4.7"/>
<line x1="146.5" y1="553.26" x2="146.5" y2="566.5" stroke="#1c1c1c" stroke-width="1.0" />
<line x1="146.5" y1="576.5" x2="146.5" y2="580.47" stroke="#1c1c1c" stroke-width="1.0" />
<rect x="133.5" y="566.5" width="26" height="10" fill="#7e9efb" stroke="#1c1c1c" stroke-width="1"/>
<line x1="133.5" y1="571" x2="159.5" y2="571" stroke="#2a2a2a" stroke-width="2.0" />
<circle cx="146.74" cy="552.09" r="2.75" fill="#747474" stroke="#484848" stroke-width="1"/>
<circle cx="145.12" cy="553.26" r="2.5" fill="none" stroke="#000" stroke-opacity="0.5" stroke-width="0.9"/>
<circle cx="145.58" cy="566.05" r="2.5" fill="none" stroke="#000" stroke-opacity="0.5" stroke-width="0.9"/>
<circle cx="144.42" cy="577.67" r="2.5" fill="none" stroke="#000" stroke-opacity="0.5" stroke-width="0.9"/>
<circle cx="147.91" cy="580" r="2.5" fill="none" stroke="#000" stroke-opacity="0.5" stroke-width="0.9"/>
<circle cx="146.74" cy="571.16" r="3.3" fill="#000"/>
<line x1="187.5" y1="539.3" x2="187.5" y2="552.5" stroke="#1c1c1c" stroke-width="1.0" />
<line x1="187.5" y1="574.5" x2="187.5" y2="583.95" stroke="#1c1c1c" stroke-width="1.0" />
<rect x="174.5" y="552.5" width="26" height="22" fill="#f44e4e" stroke="#1c1c1c" stroke-width="1"/>
<line x1="174.5" y1="571" x2="200.5" y2="571" stroke="#2a2a2a" stroke-width="2.0" />
<circle cx="187.67" cy="411.16" r="2.75" fill="#747474" stroke="#484848" stroke-width="1"/>
<circle cx="187.67" cy="539.07" r="2.5" fill="none" stroke="#000" stroke-opacity="0.5" stroke-width="0.9"/>
<circle cx="189.53" cy="552.79" r="2.5" fill="none" stroke="#000" stroke-opacity="0.5" stroke-width="0.9"/>
<circle cx="186.74" cy="574.19" r="2.5" fill="none" stroke="#000" stroke-opacity="0.5" stroke-width="0.9"/>
<circle cx="187.21" cy="583.95" r="2.5" fill="none" stroke="#000" stroke-opacity="0.5" stroke-width="0.9"/>
<circle cx="187.67" cy="568.14" r="3.3" fill="#000"/>
<line x1="228.5" y1="546.28" x2="228.5" y2="563.5" stroke="#1c1c1c" stroke-width="1.0" />
<line x1="228.5" y1="574.5" x2="228.5" y2="578.84" stroke="#1c1c1c" stroke-width="1.0" />
<rect x="216.5" y="563.5" width="25" height="11" fill="#e5c064" stroke="#1c1c1c" stroke-width="1"/>
<line x1="216.5" y1="567" x2="241.5" y2="567" stroke="#2a2a2a" stroke-width="2.0" />
<circle cx="228.84" cy="546.05" r="2.75" fill="#747474" stroke="#484848" stroke-width="1"/>
<circle cx="227.67" cy="547.91" r="2.5" fill="none" stroke="#000" stroke-opacity="0.5" stroke-width="0.9"/>
<circle cx="226.51" cy="562.56" r="2.5" fill="none" stroke="#000" stroke-opacity="0.5" stroke-width="0.9"/>
<circle cx="227.67" cy="574.19" r="2.5" fill="none" stroke="#000" stroke-opacity="0.5" stroke-width="0.9"/>
<circle cx="228.84" cy="578.84" r="2.5" fill="none" stroke="#000" stroke-opacity="0.5" stroke-width="0.9"/>
<circle cx="228.84" cy="567.91" r="3.3" fill="#000"/>
<line x1="300.5" y1="483.95" x2="300.5" y2="528.5" stroke="#1c1c1c" stroke-width="1.0" />
<line x1="300.5" y1="568.5" x2="300.5" y2="576.98" stroke="#1c1c1c" stroke-width="1.0" />
<rect x="288.5" y="528.5" width="25" height="40" fill="#7e9efb" stroke="#1c1c1c" stroke-width="1"/>
<line x1="288.5" y1="554" x2="313.5" y2="554" stroke="#2a2a2a" stroke-width="2.0" />
<circle cx="300.93" cy="452.79" r="2.75" fill="#747474" stroke="#484848" stroke-width="1"/>
<circle cx="299.07" cy="483.95" r="2.5" fill="none" stroke="#000" stroke-opacity="0.5" stroke-width="0.9"/>
<circle cx="302.33" cy="505.58" r="2.5" fill="none" stroke="#000" stroke-opacity="0.5" stroke-width="0.9"/>
<circle cx="303.26" cy="527.44" r="2.5" fill="none" stroke="#000" stroke-opacity="0.5" stroke-width="0.9"/>
<circle cx="301.4" cy="534.65" r="2.5" fill="none" stroke="#000" stroke-opacity="0.5" stroke-width="0.9"/>
<circle cx="299.07" cy="554.42" r="2.5" fill="none" stroke="#000" stroke-opacity="0.5" stroke-width="0.9"/>
<circle cx="303.26" cy="563.72" r="2.5" fill="none" stroke="#000" stroke-opacity="0.5" stroke-width="0.9"/>
<circle cx="299.07" cy="566.05" r="2.5" fill="none" stroke="#000" stroke-opacity="0.5" stroke-width="0.9"/>
<circle cx="303.26" cy="571.86" r="2.5" fill="none" stroke="#000" stroke-opacity="0.5" stroke-width="0.9"/>
<circle cx="298.37" cy="576.74" r="2.5" fill="none" stroke="#000" stroke-opacity="0.5" stroke-width="0.9"/>
<circle cx="300.93" cy="547.21" r="3.3" fill="#000"/>
<line x1="341.5" y1="539.3" x2="341.5" y2="560.5" stroke="#1c1c1c" stroke-width="1.0" />
<line x1="341.5" y1="577.5" x2="341.5" y2="582.33" stroke="#1c1c1c" stroke-width="1.0" />
<rect x="329.5" y="560.5" width="25" height="17" fill="#f44e4e" stroke="#1c1c1c" stroke-width="1"/>
<line x1="329.5" y1="570" x2="354.5" y2="570" stroke="#2a2a2a" stroke-width="2.0" />
<circle cx="342.09" cy="450" r="2.75" fill="#747474" stroke="#484848" stroke-width="1"/>
<circle cx="344.42" cy="540" r="2.5" fill="none" stroke="#000" stroke-opacity="0.5" stroke-width="0.9"/>
<circle cx="341.63" cy="554.88" r="2.5" fill="none" stroke="#000" stroke-opacity="0.5" stroke-width="0.9"/>
<circle cx="339.77" cy="563.72" r="2.5" fill="none" stroke="#000" stroke-opacity="0.5" stroke-width="0.9"/>
<circle cx="340.93" cy="574.19" r="2.5" fill="none" stroke="#000" stroke-opacity="0.5" stroke-width="0.9"/>
<circle cx="342.09" cy="580" r="2.5" fill="none" stroke="#000" stroke-opacity="0.5" stroke-width="0.9"/>
<circle cx="340.93" cy="581.86" r="2.5" fill="none" stroke="#000" stroke-opacity="0.5" stroke-width="0.9"/>
<circle cx="341.86" cy="568.84" r="3.3" fill="#000"/>
<line x1="382.5" y1="467.21" x2="382.5" y2="519.5" stroke="#1c1c1c" stroke-width="1.0" />
<line x1="382.5" y1="565.5" x2="382.5" y2="574.88" stroke="#1c1c1c" stroke-width="1.0" />
<rect x="370.5" y="519.5" width="25" height="46" fill="#e5c064" stroke="#1c1c1c" stroke-width="1"/>
<line x1="370.5" y1="549" x2="395.5" y2="549" stroke="#2a2a2a" stroke-width="2.0" />
<circle cx="383.02" cy="430.7" r="2.75" fill="#747474" stroke="#484848" stroke-width="1"/>
<circle cx="385.12" cy="467.44" r="2.5" fill="none" stroke="#000" stroke-opacity="0.5" stroke-width="0.9"/>
<circle cx="380.93" cy="492.09" r="2.5" fill="none" stroke="#000" stroke-opacity="0.5" stroke-width="0.9"/>
<circle cx="382.79" cy="518.37" r="2.5" fill="none" stroke="#000" stroke-opacity="0.5" stroke-width="0.9"/>
<circle cx="383.95" cy="526.51" r="2.5" fill="none" stroke="#000" stroke-opacity="0.5" stroke-width="0.9"/>
<circle cx="380.93" cy="549.07" r="2.5" fill="none" stroke="#000" stroke-opacity="0.5" stroke-width="0.9"/>
<circle cx="386.28" cy="559.53" r="2.5" fill="none" stroke="#000" stroke-opacity="0.5" stroke-width="0.9"/>
<circle cx="381.63" cy="566.05" r="2.5" fill="none" stroke="#000" stroke-opacity="0.5" stroke-width="0.9"/>
<circle cx="383.26" cy="569.53" r="2.5" fill="none" stroke="#000" stroke-opacity="0.5" stroke-width="0.9"/>
<circle cx="381.63" cy="574.88" r="2.5" fill="none" stroke="#000" stroke-opacity="0.5" stroke-width="0.9"/>
<circle cx="383.02" cy="540.47" r="3.3" fill="#000"/>
<line x1="454.5" y1="567.21" x2="454.5" y2="572.5" stroke="#1c1c1c" stroke-width="1.0" />
<line x1="454.5" y1="581.5" x2="454.5" y2="584.65" stroke="#1c1c1c" stroke-width="1.0" />
<rect x="442.5" y="572.5" width="25" height="9" fill="#7e9efb" stroke="#1c1c1c" stroke-width="1"/>
<line x1="442.5" y1="577" x2="467.5" y2="577" stroke="#2a2a2a" stroke-width="2.0" />
<circle cx="454.88" cy="543.26" r="2.75" fill="#747474" stroke="#484848" stroke-width="1"/>
<circle cx="454.88" cy="556.05" r="2.75" fill="#747474" stroke="#484848" stroke-width="1"/>
<circle cx="452.56" cy="566.74" r="2.5" fill="none" stroke="#000" stroke-opacity="0.5" stroke-width="0.9"/>
<circle cx="457.21" cy="571.86" r="2.5" fill="none" stroke="#000" stroke-opacity="0.5" stroke-width="0.9"/>
<circle cx="452.56" cy="577.67" r="2.5" fill="none" stroke="#000" stroke-opacity="0.5" stroke-width="0.9"/>
<circle cx="456.05" cy="582.33" r="2.5" fill="none" stroke="#000" stroke-opacity="0.5" stroke-width="0.9"/>
<circle cx="452.56" cy="583.95" r="2.5" fill="none" stroke="#000" stroke-opacity="0.5" stroke-width="0.9"/>
<circle cx="456.05" cy="584.19" r="2.5" fill="none" stroke="#000" stroke-opacity="0.5" stroke-width="0.9"/>
<circle cx="454.88" cy="578.84" r="3.3" fill="#000"/>
<line x1="496.5" y1="543.49" x2="496.5" y2="558.5" stroke="#1c1c1c" stroke-width="1.0" />
<line x1="496.5" y1="582.5" x2="496.5" y2="585.12" stroke="#1c1c1c" stroke-width="1.0" />
<rect x="483.5" y="558.5" width="26" height="24" fill="#f44e4e" stroke="#1c1c1c" stroke-width="1"/>
<line x1="483.5" y1="579" x2="509.5" y2="579" stroke="#2a2a2a" stroke-width="2.0" />
<circle cx="496.28" cy="543.49" r="2.5" fill="none" stroke="#000" stroke-opacity="0.5" stroke-width="0.9"/>
<circle cx="494.42" cy="546.74" r="2.5" fill="none" stroke="#000" stroke-opacity="0.5" stroke-width="0.9"/>
<circle cx="496.28" cy="550.93" r="2.5" fill="none" stroke="#000" stroke-opacity="0.5" stroke-width="0.9"/>
<circle cx="495.58" cy="555.58" r="2.5" fill="none" stroke="#000" stroke-opacity="0.5" stroke-width="0.9"/>
<circle cx="497.44" cy="566.74" r="2.5" fill="none" stroke="#000" stroke-opacity="0.5" stroke-width="0.9"/>
<circle cx="495.58" cy="577.67" r="2.5" fill="none" stroke="#000" stroke-opacity="0.5" stroke-width="0.9"/>
<circle cx="496.74" cy="581.16" r="2.5" fill="none" stroke="#000" stroke-opacity="0.5" stroke-width="0.9"/>
<circle cx="495.58" cy="584.65" r="2.5" fill="none" stroke="#000" stroke-opacity="0.5" stroke-width="0.9"/>
<circle cx="497.91" cy="584.65" r="2.5" fill="none" stroke="#000" stroke-opacity="0.5" stroke-width="0.9"/>
<circle cx="496.05" cy="572.09" r="3.3" fill="#000"/>
<line x1="537.5" y1="563.26" x2="537.5" y2="569.5" stroke="#1c1c1c" stroke-width="1.0" />
<line x1="537.5" y1="579.5" x2="537.5" y2="583.49" stroke="#1c1c1c" stroke-width="1.0" />
<rect x="524.5" y="569.5" width="26" height="10" fill="#e5c064" stroke="#1c1c1c" stroke-width="1"/>
<line x1="524.5" y1="575" x2="550.5" y2="575" stroke="#2a2a2a" stroke-width="2.0" />
<circle cx="537.44" cy="535.81" r="2.75" fill="#747474" stroke="#484848" stroke-width="1"/>
<circle cx="537.44" cy="550.93" r="2.75" fill="#747474" stroke="#484848" stroke-width="1"/>
<circle cx="535.58" cy="563.26" r="2.5" fill="none" stroke="#000" stroke-opacity="0.5" stroke-width="0.9"/>
<circle cx="536.28" cy="569.53" r="2.5" fill="none" stroke="#000" stroke-opacity="0.5" stroke-width="0.9"/>
<circle cx="539.77" cy="573.02" r="2.5" fill="none" stroke="#000" stroke-opacity="0.5" stroke-width="0.9"/>
<circle cx="535.12" cy="578.84" r="2.5" fill="none" stroke="#000" stroke-opacity="0.5" stroke-width="0.9"/>
<circle cx="538.6" cy="580" r="2.5" fill="none" stroke="#000" stroke-opacity="0.5" stroke-width="0.9"/>
<circle cx="537.44" cy="582.79" r="2.5" fill="none" stroke="#000" stroke-opacity="0.5" stroke-width="0.9"/>
<circle cx="537.21" cy="576.51" r="3.3" fill="#000"/>
<line x1="609.5" y1="509.07" x2="609.5" y2="537.5" stroke="#1c1c1c" stroke-width="1.0" />
<line x1="609.5" y1="568.5" x2="609.5" y2="571.86" stroke="#1c1c1c" stroke-width="1.0" />
<rect x="596.5" y="537.5" width="26" height="31" fill="#7e9efb" stroke="#1c1c1c" stroke-width="1"/>
<line x1="596.5" y1="546" x2="622.5" y2="546" stroke="#2a2a2a" stroke-width="2.0" />
<circle cx="610.47" cy="509.07" r="2.5" fill="none" stroke="#000" stroke-opacity="0.5" stroke-width="0.9"/>
<circle cx="608.37" cy="529.3" r="2.5" fill="none" stroke="#000" stroke-opacity="0.5" stroke-width="0.9"/>
<circle cx="607.21" cy="534.19" r="2.5" fill="none" stroke="#000" stroke-opacity="0.5" stroke-width="0.9"/>
<circle cx="607.91" cy="540.47" r="2.5" fill="none" stroke="#000" stroke-opacity="0.5" stroke-width="0.9"/>
<circle cx="606.05" cy="545.81" r="2.5" fill="none" stroke="#000" stroke-opacity="0.5" stroke-width="0.9"/>
<circle cx="607.21" cy="563.26" r="2.5" fill="none" stroke="#000" stroke-opacity="0.5" stroke-width="0.9"/>
<circle cx="611.16" cy="567.21" r="2.5" fill="none" stroke="#000" stroke-opacity="0.5" stroke-width="0.9"/>
<circle cx="608.84" cy="568.84" r="2.5" fill="none" stroke="#000" stroke-opacity="0.5" stroke-width="0.9"/>
<circle cx="609.53" cy="572.56" r="2.5" fill="none" stroke="#000" stroke-opacity="0.5" stroke-width="0.9"/>
<circle cx="609.07" cy="550.7" r="3.3" fill="#000"/>
<line x1="650.5" y1="547.44" x2="650.5" y2="559.5" stroke="#1c1c1c" stroke-width="1.0" />
<line x1="650.5" y1="572.5" x2="650.5" y2="581.16" stroke="#1c1c1c" stroke-width="1.0" />
<rect x="637.5" y="559.5" width="26" height="13" fill="#f44e4e" stroke="#1c1c1c" stroke-width="1"/>
<line x1="637.5" y1="566" x2="663.5" y2="566" stroke="#2a2a2a" stroke-width="2.0" />
<circle cx="650.23" cy="520.93" r="2.75" fill="#747474" stroke="#484848" stroke-width="1"/>
<circle cx="648.37" cy="547.44" r="2.5" fill="none" stroke="#000" stroke-opacity="0.5" stroke-width="0.9"/>
<circle cx="647.91" cy="556.05" r="2.5" fill="none" stroke="#000" stroke-opacity="0.5" stroke-width="0.9"/>
<circle cx="652.56" cy="560.23" r="2.5" fill="none" stroke="#000" stroke-opacity="0.5" stroke-width="0.9"/>
<circle cx="649.07" cy="562.56" r="2.5" fill="none" stroke="#000" stroke-opacity="0.5" stroke-width="0.9"/>
<circle cx="646.74" cy="569.53" r="2.5" fill="none" stroke="#000" stroke-opacity="0.5" stroke-width="0.9"/>
<circle cx="650.23" cy="571.86" r="2.5" fill="none" stroke="#000" stroke-opacity="0.5" stroke-width="0.9"/>
<circle cx="648.6" cy="581.86" r="2.5" fill="none" stroke="#000" stroke-opacity="0.5" stroke-width="0.9"/>
<circle cx="650.23" cy="566.28" r="3.3" fill="#000"/>
<line x1="691.5" y1="496.28" x2="691.5" y2="528.5" stroke="#1c1c1c" stroke-width="1.0" />
<line x1="691.5" y1="564.5" x2="691.5" y2="569.53" stroke="#1c1c1c" stroke-width="1.0" />
<rect x="678.5" y="528.5" width="26" height="36" fill="#e5c064" stroke="#1c1c1c" stroke-width="1"/>
<line x1="678.5" y1="539" x2="704.5" y2="539" stroke="#2a2a2a" stroke-width="2.0" />
<circle cx="690.47" cy="496.05" r="2.5" fill="none" stroke="#000" stroke-opacity="0.5" stroke-width="0.9"/>
<circle cx="692.79" cy="519.77" r="2.5" fill="none" stroke="#000" stroke-opacity="0.5" stroke-width="0.9"/>
<circle cx="691.4" cy="526.51" r="2.5" fill="none" stroke="#000" stroke-opacity="0.5" stroke-width="0.9"/>
<circle cx="691.4" cy="532.33" r="2.5" fill="none" stroke="#000" stroke-opacity="0.5" stroke-width="0.9"/>
<circle cx="689.77" cy="538.14" r="2.5" fill="none" stroke="#000" stroke-opacity="0.5" stroke-width="0.9"/>
<circle cx="692.79" cy="559.07" r="2.5" fill="none" stroke="#000" stroke-opacity="0.5" stroke-width="0.9"/>
<circle cx="690.93" cy="564.42" r="2.5" fill="none" stroke="#000" stroke-opacity="0.5" stroke-width="0.9"/>
<circle cx="692.09" cy="566.05" r="2.5" fill="none" stroke="#000" stroke-opacity="0.5" stroke-width="0.9"/>
<circle cx="689.07" cy="569.53" r="2.5" fill="none" stroke="#000" stroke-opacity="0.5" stroke-width="0.9"/>
<circle cx="691.4" cy="544.65" r="3.3" fill="#000"/>
<line x1="763.5" y1="395.43" x2="763.5" y2="432.5" stroke="#1c1c1c" stroke-width="1.0" />
<line x1="763.5" y1="538.5" x2="763.5" y2="559.13" stroke="#1c1c1c" stroke-width="1.0" />
<rect x="750.5" y="432.5" width="26" height="106" fill="#7e9efb" stroke="#1c1c1c" stroke-width="1"/>
<line x1="750.5" y1="488" x2="776.5" y2="488" stroke="#2a2a2a" stroke-width="2.0" />
<circle cx="763.36" cy="395.12" r="2.5" fill="none" stroke="#000" stroke-opacity="0.5" stroke-width="0.9"/>
<circle cx="762.74" cy="406.03" r="2.5" fill="none" stroke="#000" stroke-opacity="0.5" stroke-width="0.9"/>
<circle cx="760.56" cy="420.37" r="2.5" fill="none" stroke="#000" stroke-opacity="0.5" stroke-width="0.9"/>
<circle cx="761.18" cy="426.61" r="2.5" fill="none" stroke="#000" stroke-opacity="0.5" stroke-width="0.9"/>
<circle cx="764.92" cy="437.52" r="2.5" fill="none" stroke="#000" stroke-opacity="0.5" stroke-width="0.9"/>
<circle cx="763.68" cy="445.32" r="2.5" fill="none" stroke="#000" stroke-opacity="0.5" stroke-width="0.9"/>
<circle cx="762.12" cy="458.73" r="2.5" fill="none" stroke="#000" stroke-opacity="0.5" stroke-width="0.9"/>
<circle cx="761.18" cy="488.04" r="2.5" fill="none" stroke="#000" stroke-opacity="0.5" stroke-width="0.9"/>
<circle cx="764.92" cy="495.83" r="2.5" fill="none" stroke="#000" stroke-opacity="0.5" stroke-width="0.9"/>
<circle cx="765.24" cy="521.4" r="2.5" fill="none" stroke="#000" stroke-opacity="0.5" stroke-width="0.9"/>
<circle cx="762.12" cy="535.12" r="2.5" fill="none" stroke="#000" stroke-opacity="0.5" stroke-width="0.9"/>
<circle cx="762.74" cy="541.98" r="2.5" fill="none" stroke="#000" stroke-opacity="0.5" stroke-width="0.9"/>
<circle cx="763.68" cy="544.48" r="2.5" fill="none" stroke="#000" stroke-opacity="0.5" stroke-width="0.9"/>
<circle cx="765.24" cy="559.13" r="2.5" fill="none" stroke="#000" stroke-opacity="0.5" stroke-width="0.9"/>
<circle cx="763.36" cy="481.18" r="3.3" fill="#000"/>
<line x1="804.5" y1="474.94" x2="804.5" y2="485.5" stroke="#1c1c1c" stroke-width="1.0" />
<line x1="804.5" y1="523.5" x2="804.5" y2="532.63" stroke="#1c1c1c" stroke-width="1.0" />
<rect x="791.5" y="485.5" width="26" height="38" fill="#f44e4e" stroke="#1c1c1c" stroke-width="1"/>
<line x1="791.5" y1="505" x2="817.5" y2="505" stroke="#2a2a2a" stroke-width="2.0" />
<circle cx="804.52" cy="366.74" r="2.75" fill="#747474" stroke="#484848" stroke-width="1"/>
<circle cx="804.52" cy="404.16" r="2.75" fill="#747474" stroke="#484848" stroke-width="1"/>
<circle cx="804.21" cy="474.94" r="2.5" fill="none" stroke="#000" stroke-opacity="0.5" stroke-width="0.9"/>
<circle cx="803.59" cy="483.67" r="2.5" fill="none" stroke="#000" stroke-opacity="0.5" stroke-width="0.9"/>
<circle cx="804.21" cy="492.09" r="2.5" fill="none" stroke="#000" stroke-opacity="0.5" stroke-width="0.9"/>
<circle cx="804.21" cy="497.7" r="2.5" fill="none" stroke="#000" stroke-opacity="0.5" stroke-width="0.9"/>
<circle cx="802.34" cy="504.56" r="2.5" fill="none" stroke="#000" stroke-opacity="0.5" stroke-width="0.9"/>
<circle cx="802.34" cy="512.36" r="2.5" fill="none" stroke="#000" stroke-opacity="0.5" stroke-width="0.9"/>
<circle cx="802.34" cy="518.6" r="2.5" fill="none" stroke="#000" stroke-opacity="0.5" stroke-width="0.9"/>
<circle cx="806.4" cy="527.95" r="2.5" fill="none" stroke="#000" stroke-opacity="0.5" stroke-width="0.9"/>
<circle cx="803.28" cy="531.07" r="2.5" fill="none" stroke="#000" stroke-opacity="0.5" stroke-width="0.9"/>
<circle cx="804.84" cy="532" r="2.5" fill="none" stroke="#000" stroke-opacity="0.5" stroke-width="0.9"/>
<circle cx="804.21" cy="509.24" r="3.3" fill="#000"/>
<line x1="845.5" y1="363.62" x2="845.5" y2="406.5" stroke="#1c1c1c" stroke-width="1.0" />
<line x1="845.5" y1="529.5" x2="845.5" y2="554.45" stroke="#1c1c1c" stroke-width="1.0" />
<rect x="832.5" y="406.5" width="26" height="123" fill="#e5c064" stroke="#1c1c1c" stroke-width="1"/>
<line x1="832.5" y1="472" x2="858.5" y2="472" stroke="#2a2a2a" stroke-width="2.0" />
<circle cx="842.88" cy="363.31" r="2.5" fill="none" stroke="#000" stroke-opacity="0.5" stroke-width="0.9"/>
<circle cx="844.13" cy="377.03" r="2.5" fill="none" stroke="#000" stroke-opacity="0.5" stroke-width="0.9"/>
<circle cx="846.93" cy="393.87" r="2.5" fill="none" stroke="#000" stroke-opacity="0.5" stroke-width="0.9"/>
<circle cx="842.88" cy="400.42" r="2.5" fill="none" stroke="#000" stroke-opacity="0.5" stroke-width="0.9"/>
<circle cx="845.68" cy="413.2" r="2.5" fill="none" stroke="#000" stroke-opacity="0.5" stroke-width="0.9"/>
<circle cx="844.75" cy="422.56" r="2.5" fill="none" stroke="#000" stroke-opacity="0.5" stroke-width="0.9"/>
<circle cx="843.81" cy="438.15" r="2.5" fill="none" stroke="#000" stroke-opacity="0.5" stroke-width="0.9"/>
<circle cx="847.56" cy="471.82" r="2.5" fill="none" stroke="#000" stroke-opacity="0.5" stroke-width="0.9"/>
<circle cx="846.93" cy="481.18" r="2.5" fill="none" stroke="#000" stroke-opacity="0.5" stroke-width="0.9"/>
<circle cx="846.93" cy="510.8" r="2.5" fill="none" stroke="#000" stroke-opacity="0.5" stroke-width="0.9"/>
<circle cx="843.81" cy="526.39" r="2.5" fill="none" stroke="#000" stroke-opacity="0.5" stroke-width="0.9"/>
<circle cx="845.37" cy="535.75" r="2.5" fill="none" stroke="#000" stroke-opacity="0.5" stroke-width="0.9"/>
<circle cx="847.56" cy="535.75" r="2.5" fill="none" stroke="#000" stroke-opacity="0.5" stroke-width="0.9"/>
<circle cx="843.5" cy="553.83" r="2.5" fill="none" stroke="#000" stroke-opacity="0.5" stroke-width="0.9"/>
<circle cx="845.37" cy="463.72" r="3.3" fill="#000"/>
<line x1="917.5" y1="448.44" x2="917.5" y2="457.5" stroke="#1c1c1c" stroke-width="1.0" />
<line x1="917.5" y1="502.5" x2="917.5" y2="538.86" stroke="#1c1c1c" stroke-width="1.0" />
<rect x="904.5" y="457.5" width="26" height="45" fill="#7e9efb" stroke="#1c1c1c" stroke-width="1"/>
<line x1="904.5" y1="476" x2="930.5" y2="476" stroke="#2a2a2a" stroke-width="2.0" />
<circle cx="918.65" cy="448.12" r="2.5" fill="none" stroke="#000" stroke-opacity="0.5" stroke-width="0.9"/>
<circle cx="919.27" cy="454.05" r="2.5" fill="none" stroke="#000" stroke-opacity="0.5" stroke-width="0.9"/>
<circle cx="915.53" cy="457.79" r="2.5" fill="none" stroke="#000" stroke-opacity="0.5" stroke-width="0.9"/>
<circle cx="916.16" cy="467.77" r="2.5" fill="none" stroke="#000" stroke-opacity="0.5" stroke-width="0.9"/>
<circle cx="919.27" cy="471.82" r="2.5" fill="none" stroke="#000" stroke-opacity="0.5" stroke-width="0.9"/>
<circle cx="916.47" cy="475.88" r="2.5" fill="none" stroke="#000" stroke-opacity="0.5" stroke-width="0.9"/>
<circle cx="918.03" cy="489.6" r="2.5" fill="none" stroke="#000" stroke-opacity="0.5" stroke-width="0.9"/>
<circle cx="919.59" cy="499.89" r="2.5" fill="none" stroke="#000" stroke-opacity="0.5" stroke-width="0.9"/>
<circle cx="916.16" cy="504.56" r="2.5" fill="none" stroke="#000" stroke-opacity="0.5" stroke-width="0.9"/>
<circle cx="920.21" cy="505.19" r="2.5" fill="none" stroke="#000" stroke-opacity="0.5" stroke-width="0.9"/>
<circle cx="917.09" cy="538.86" r="2.5" fill="none" stroke="#000" stroke-opacity="0.5" stroke-width="0.9"/>
<circle cx="917.4" cy="483.36" r="3.3" fill="#000"/>
<line x1="958.5" y1="467.15" x2="958.5" y2="476.5" stroke="#1c1c1c" stroke-width="1.0" />
<line x1="958.5" y1="519.5" x2="958.5" y2="536.68" stroke="#1c1c1c" stroke-width="1.0" />
<rect x="945.5" y="476.5" width="26" height="43" fill="#f44e4e" stroke="#1c1c1c" stroke-width="1"/>
<line x1="945.5" y1="488" x2="971.5" y2="488" stroke="#2a2a2a" stroke-width="2.0" />
<circle cx="958.56" cy="406.96" r="2.75" fill="#747474" stroke="#484848" stroke-width="1"/>
<circle cx="959.5" cy="467.77" r="2.5" fill="none" stroke="#000" stroke-opacity="0.5" stroke-width="0.9"/>
<circle cx="957" cy="470.26" r="2.5" fill="none" stroke="#000" stroke-opacity="0.5" stroke-width="0.9"/>
<circle cx="960.75" cy="483.36" r="2.5" fill="none" stroke="#000" stroke-opacity="0.5" stroke-width="0.9"/>
<circle cx="957.63" cy="485.85" r="2.5" fill="none" stroke="#000" stroke-opacity="0.5" stroke-width="0.9"/>
<circle cx="959.19" cy="488.97" r="2.5" fill="none" stroke="#000" stroke-opacity="0.5" stroke-width="0.9"/>
<circle cx="957.63" cy="502.07" r="2.5" fill="none" stroke="#000" stroke-opacity="0.5" stroke-width="0.9"/>
<circle cx="956.69" cy="513.92" r="2.5" fill="none" stroke="#000" stroke-opacity="0.5" stroke-width="0.9"/>
<circle cx="959.19" cy="516.41" r="2.5" fill="none" stroke="#000" stroke-opacity="0.5" stroke-width="0.9"/>
<circle cx="957.63" cy="523.27" r="2.5" fill="none" stroke="#000" stroke-opacity="0.5" stroke-width="0.9"/>
<circle cx="957.63" cy="528.89" r="2.5" fill="none" stroke="#000" stroke-opacity="0.5" stroke-width="0.9"/>
<circle cx="959.81" cy="536.37" r="2.5" fill="none" stroke="#000" stroke-opacity="0.5" stroke-width="0.9"/>
<circle cx="958.56" cy="499.89" r="3.3" fill="#000"/>
<line x1="999.5" y1="425.05" x2="999.5" y2="436.5" stroke="#1c1c1c" stroke-width="1.0" />
<line x1="999.5" y1="488.5" x2="999.5" y2="531.07" stroke="#1c1c1c" stroke-width="1.0" />
<rect x="987.5" y="436.5" width="25" height="52" fill="#e5c064" stroke="#1c1c1c" stroke-width="1"/>
<line x1="987.5" y1="458" x2="1012.5" y2="458" stroke="#2a2a2a" stroke-width="2.0" />
<circle cx="1002.22" cy="425.36" r="2.5" fill="none" stroke="#000" stroke-opacity="0.5" stroke-width="0.9"/>
<circle cx="999.72" cy="431.29" r="2.5" fill="none" stroke="#000" stroke-opacity="0.5" stroke-width="0.9"/>
<circle cx="997.23" cy="435.34" r="2.5" fill="none" stroke="#000" stroke-opacity="0.5" stroke-width="0.9"/>
<circle cx="1002.22" cy="436.59" r="2.5" fill="none" stroke="#000" stroke-opacity="0.5" stroke-width="0.9"/>
<circle cx="1000.35" cy="448.44" r="2.5" fill="none" stroke="#000" stroke-opacity="0.5" stroke-width="0.9"/>
<circle cx="999.1" cy="453.11" r="2.5" fill="none" stroke="#000" stroke-opacity="0.5" stroke-width="0.9"/>
<circle cx="997.54" cy="457.79" r="2.5" fill="none" stroke="#000" stroke-opacity="0.5" stroke-width="0.9"/>
<circle cx="1000.66" cy="474.01" r="2.5" fill="none" stroke="#000" stroke-opacity="0.5" stroke-width="0.9"/>
<circle cx="997.54" cy="485.85" r="2.5" fill="none" stroke="#000" stroke-opacity="0.5" stroke-width="0.9"/>
<circle cx="1000.66" cy="491.47" r="2.5" fill="none" stroke="#000" stroke-opacity="0.5" stroke-width="0.9"/>
<circle cx="998.79" cy="528.89" r="2.5" fill="none" stroke="#000" stroke-opacity="0.5" stroke-width="0.9"/>
<circle cx="997.54" cy="531.38" r="2.5" fill="none" stroke="#000" stroke-opacity="0.5" stroke-width="0.9"/>
<circle cx="999.72" cy="466.21" r="3.3" fill="#000"/>
<line x1="124" y1="311" x2="124" y2="589.95" stroke="#000" stroke-width="2" />
<line x1="1022.5" y1="311" x2="1022.5" y2="589.95" stroke="#000" stroke-width="1.1" />
<line x1="123" y1="312" x2="1023.05" y2="312" stroke="#000" stroke-width="2" />
<line x1="123" y1="589.4" x2="1023.05" y2="589.4" stroke="#000" stroke-width="1.1" />
<line x1="113" y1="590" x2="124" y2="590" stroke="#1a1a1a" stroke-width="1.6" />
<text x="103.7" y="598.28" font-size="21.9" text-anchor="end" >0</text>
<line x1="118.1" y1="566.83" x2="124" y2="566.83" stroke="#1a1a1a" stroke-width="1.6" />
<line x1="118.1" y1="543.67" x2="124" y2="543.67" stroke="#1a1a1a" stroke-width="1.6" />
<line x1="118.1" y1="520.5" x2="124" y2="520.5" stroke="#1a1a1a" stroke-width="1.6" />
<line x1="113" y1="497.33" x2="124" y2="497.33" stroke="#1a1a1a" stroke-width="1.6" />
<text x="109.2" y="505.42" font-size="21.9" text-anchor="end" >20</text>
<line x1="118.1" y1="474.17" x2="124" y2="474.17" stroke="#1a1a1a" stroke-width="1.6" />
<line x1="118.1" y1="451" x2="124" y2="451" stroke="#1a1a1a" stroke-width="1.6" />
<line x1="118.1" y1="427.83" x2="124" y2="427.83" stroke="#1a1a1a" stroke-width="1.6" />
<line x1="113" y1="404.67" x2="124" y2="404.67" stroke="#1a1a1a" stroke-width="1.6" />
<text x="109.2" y="412.75" font-size="21.9" text-anchor="end" >40</text>
<line x1="118.1" y1="381.5" x2="124" y2="381.5" stroke="#1a1a1a" stroke-width="1.6" />
<line x1="118.1" y1="358.33" x2="124" y2="358.33" stroke="#1a1a1a" stroke-width="1.6" />
<line x1="118.1" y1="335.17" x2="124" y2="335.17" stroke="#1a1a1a" stroke-width="1.6" />
<line x1="113" y1="312" x2="124" y2="312" stroke="#1a1a1a" stroke-width="1.6" />
<text x="109.2" y="320.08" font-size="21.9" text-anchor="end" >60</text>
<line x1="187.9" y1="589.4" x2="187.9" y2="599.7" stroke="#111" stroke-width="1.9" />
<line x1="341.9" y1="589.4" x2="341.9" y2="599.7" stroke="#111" stroke-width="1.9" />
<line x1="496" y1="589.4" x2="496" y2="599.7" stroke="#111" stroke-width="1.9" />
<line x1="650.3" y1="589.4" x2="650.3" y2="599.7" stroke="#111" stroke-width="1.9" />
<line x1="804.8" y1="589.4" x2="804.8" y2="599.7" stroke="#111" stroke-width="1.9" />
<line x1="959.2" y1="589.4" x2="959.2" y2="599.7" stroke="#111" stroke-width="1.9" />
<text x="136.6" y="337.5" font-size="20.4" text-anchor="start" font-weight="bold">C</text>
<text x="571.9" y="337.7" font-size="20.1" text-anchor="start" textLength="148.8" lengthAdjust="spacingAndGlyphs" >Treat: <tspan font-style="italic">P</tspan>= 0.005</text>
<text x="574.1" y="365.4" font-size="20.1" text-anchor="start" textLength="142.7" lengthAdjust="spacingAndGlyphs" >Year: <tspan font-style="italic">P</tspan>&lt; 0.001</text>
<text x="576.2" y="393.5" font-size="20.1" text-anchor="start" textLength="156.6" lengthAdjust="spacingAndGlyphs" xml:space="preserve">Treat x Year:  ns</text>
<polyline points="300.5,471.2 300.5,469.5 341.5,469.5 341.5,471.2" fill="none" stroke="#111" stroke-width="1.2"/>
<text x="321.55" y="472.15" font-size="18.6" letter-spacing="1.1" text-anchor="middle">*</text>
<polyline points="341.5,440.2 341.5,438.5 383.5,438.5 383.5,440.2" fill="none" stroke="#111" stroke-width="1.2"/>
<text x="363.05" y="441.15" font-size="18.6" letter-spacing="1.1" text-anchor="middle">**</text>
<polyline points="609.5,471.2 609.5,469.5 650.5,469.5 650.5,471.2" fill="none" stroke="#111" stroke-width="1.2"/>
<text x="630.55" y="472.15" font-size="18.6" letter-spacing="1.1" text-anchor="middle">*</text>
<polyline points="650.5,440.2 650.5,438.5 691.5,438.5 691.5,440.2" fill="none" stroke="#111" stroke-width="1.2"/>
<text x="671.55" y="441.15" font-size="18.6" letter-spacing="1.1" text-anchor="middle">**</text>
<polyline points="804.5,360.2 804.5,358.5 845.5,358.5 845.5,360.2" fill="none" stroke="#111" stroke-width="1.2"/>
<text x="825.55" y="361.35" font-size="18.6" letter-spacing="1.1" text-anchor="middle">*</text>
<polyline points="958.5,328.2 958.5,326.5 999.5,326.5 999.5,328.2" fill="none" stroke="#111" stroke-width="1.2"/>
<text x="979.55" y="329.65" font-size="18.6" letter-spacing="1.1" text-anchor="middle">**</text>
</g>
<g id="pD">
<line x1="1194.5" y1="383.23" x2="1194.5" y2="441.5" stroke="#1c1c1c" stroke-width="1.0" />
<line x1="1194.5" y1="488.5" x2="1194.5" y2="535.05" stroke="#1c1c1c" stroke-width="1.0" />
<rect x="1180.5" y="441.5" width="29" height="47" fill="#7e9efb" stroke="#1c1c1c" stroke-width="1"/>
<line x1="1180.5" y1="471" x2="1209.5" y2="471" stroke="#2a2a2a" stroke-width="2.0" />
<circle cx="1194.93" cy="383.23" r="2.5" fill="none" stroke="#000" stroke-opacity="0.5" stroke-width="1.0"/>
<circle cx="1194.74" cy="418.37" r="2.5" fill="none" stroke="#000" stroke-opacity="0.5" stroke-width="1.0"/>
<circle cx="1194.74" cy="421.89" r="2.5" fill="none" stroke="#000" stroke-opacity="0.5" stroke-width="1.0"/>
<circle cx="1194.74" cy="430.76" r="2.5" fill="none" stroke="#000" stroke-opacity="0.5" stroke-width="1.0"/>
<circle cx="1194.93" cy="451.27" r="2.5" fill="none" stroke="#000" stroke-opacity="0.5" stroke-width="1.0"/>
<circle cx="1194.93" cy="453.67" r="2.5" fill="none" stroke="#000" stroke-opacity="0.5" stroke-width="1.0"/>
<circle cx="1194.93" cy="471.61" r="2.5" fill="none" stroke="#000" stroke-opacity="0.5" stroke-width="1.0"/>
<circle cx="1194.93" cy="481.78" r="2.5" fill="none" stroke="#000" stroke-opacity="0.5" stroke-width="1.0"/>
<circle cx="1194.93" cy="484.56" r="2.5" fill="none" stroke="#000" stroke-opacity="0.5" stroke-width="1.0"/>
<circle cx="1194.93" cy="489.55" r="2.5" fill="none" stroke="#000" stroke-opacity="0.5" stroke-width="1.0"/>
<circle cx="1195.11" cy="495.66" r="2.5" fill="none" stroke="#000" stroke-opacity="0.5" stroke-width="1.0"/>
<circle cx="1194.93" cy="511.38" r="2.5" fill="none" stroke="#000" stroke-opacity="0.5" stroke-width="1.0"/>
<circle cx="1194.93" cy="535.05" r="2.5" fill="none" stroke="#000" stroke-opacity="0.5" stroke-width="1.0"/>
<circle cx="1194.74" cy="464.58" r="3.3" fill="#000"/>
<line x1="1269.5" y1="463.29" x2="1269.5" y2="486.5" stroke="#1c1c1c" stroke-width="1.0" />
<line x1="1269.5" y1="509.5" x2="1269.5" y2="526.17" stroke="#1c1c1c" stroke-width="1.0" />
<rect x="1254.5" y="486.5" width="30" height="23" fill="#f44e4e" stroke="#1c1c1c" stroke-width="1"/>
<line x1="1254.5" y1="503" x2="1284.5" y2="503" stroke="#2a2a2a" stroke-width="2.0" />
<circle cx="1269.28" cy="463.29" r="2.5" fill="none" stroke="#000" stroke-opacity="0.5" stroke-width="1.0"/>
<circle cx="1269.46" cy="474.94" r="2.5" fill="none" stroke="#000" stroke-opacity="0.5" stroke-width="1.0"/>
<circle cx="1269.46" cy="477.16" r="2.5" fill="none" stroke="#000" stroke-opacity="0.5" stroke-width="1.0"/>
<circle cx="1268.54" cy="480.31" r="2.5" fill="none" stroke="#000" stroke-opacity="0.5" stroke-width="1.0"/>
<circle cx="1268.91" cy="491.96" r="2.5" fill="none" stroke="#000" stroke-opacity="0.5" stroke-width="1.0"/>
<circle cx="1269.09" cy="503.98" r="2.5" fill="none" stroke="#000" stroke-opacity="0.5" stroke-width="1.0"/>
<circle cx="1269.09" cy="506.2" r="2.5" fill="none" stroke="#000" stroke-opacity="0.5" stroke-width="1.0"/>
<circle cx="1269.09" cy="509.9" r="2.5" fill="none" stroke="#000" stroke-opacity="0.5" stroke-width="1.0"/>
<circle cx="1269.09" cy="512.3" r="2.5" fill="none" stroke="#000" stroke-opacity="0.5" stroke-width="1.0"/>
<circle cx="1269.46" cy="525.25" r="2.5" fill="none" stroke="#000" stroke-opacity="0.5" stroke-width="1.0"/>
<circle cx="1269.46" cy="526.54" r="2.5" fill="none" stroke="#000" stroke-opacity="0.5" stroke-width="1.0"/>
<circle cx="1269.09" cy="498.8" r="3.3" fill="#000"/>
<line x1="1343.5" y1="350.68" x2="1343.5" y2="417.5" stroke="#1c1c1c" stroke-width="1.0" />
<line x1="1343.5" y1="473.5" x2="1343.5" y2="526.73" stroke="#1c1c1c" stroke-width="1.0" />
<rect x="1328.5" y="417.5" width="30" height="56" fill="#e5c064" stroke="#1c1c1c" stroke-width="1"/>
<line x1="1328.5" y1="453" x2="1358.5" y2="453" stroke="#2a2a2a" stroke-width="2.0" />
<circle cx="1343.62" cy="350.68" r="2.5" fill="none" stroke="#000" stroke-opacity="0.5" stroke-width="1.0"/>
<circle cx="1343.62" cy="391.55" r="2.5" fill="none" stroke="#000" stroke-opacity="0.5" stroke-width="1.0"/>
<circle cx="1343.62" cy="395.25" r="2.5" fill="none" stroke="#000" stroke-opacity="0.5" stroke-width="1.0"/>
<circle cx="1343.44" cy="405.8" r="2.5" fill="none" stroke="#000" stroke-opacity="0.5" stroke-width="1.0"/>
<circle cx="1343.62" cy="430.76" r="2.5" fill="none" stroke="#000" stroke-opacity="0.5" stroke-width="1.0"/>
<circle cx="1343.62" cy="432.61" r="2.5" fill="none" stroke="#000" stroke-opacity="0.5" stroke-width="1.0"/>
<circle cx="1343.81" cy="453.12" r="2.5" fill="none" stroke="#000" stroke-opacity="0.5" stroke-width="1.0"/>
<circle cx="1343.62" cy="465.14" r="2.5" fill="none" stroke="#000" stroke-opacity="0.5" stroke-width="1.0"/>
<circle cx="1343.62" cy="467.91" r="2.5" fill="none" stroke="#000" stroke-opacity="0.5" stroke-width="1.0"/>
<circle cx="1343.44" cy="473.83" r="2.5" fill="none" stroke="#000" stroke-opacity="0.5" stroke-width="1.0"/>
<circle cx="1343.26" cy="481.41" r="2.5" fill="none" stroke="#000" stroke-opacity="0.5" stroke-width="1.0"/>
<circle cx="1343.62" cy="499.54" r="2.5" fill="none" stroke="#000" stroke-opacity="0.5" stroke-width="1.0"/>
<circle cx="1343.44" cy="526.73" r="2.5" fill="none" stroke="#000" stroke-opacity="0.5" stroke-width="1.0"/>
<circle cx="1343.62" cy="445.17" r="3.3" fill="#000"/>
<line x1="1150" y1="311" x2="1150" y2="587" stroke="#000" stroke-width="2" />
<line x1="1388" y1="311" x2="1388" y2="587" stroke="#000" stroke-width="2" />
<line x1="1149" y1="312" x2="1389" y2="312" stroke="#000" stroke-width="2" />
<line x1="1149" y1="586" x2="1389" y2="586" stroke="#000" stroke-width="2" />
<line x1="1140" y1="586" x2="1150" y2="586" stroke="#1a1a1a" stroke-width="1.6" />
<text x="1135.6" y="594.18" font-size="21.9" text-anchor="end" >0.0</text>
<line x1="1145" y1="540.33" x2="1150" y2="540.33" stroke="#1a1a1a" stroke-width="1.6" />
<line x1="1140" y1="494.67" x2="1150" y2="494.67" stroke="#1a1a1a" stroke-width="1.6" />
<text x="1135.6" y="502.85" font-size="21.9" text-anchor="end" >0.6</text>
<line x1="1145" y1="449" x2="1150" y2="449" stroke="#1a1a1a" stroke-width="1.6" />
<line x1="1140" y1="403.33" x2="1150" y2="403.33" stroke="#1a1a1a" stroke-width="1.6" />
<text x="1135.6" y="411.52" font-size="21.9" text-anchor="end" >1.2</text>
<line x1="1145" y1="357.67" x2="1150" y2="357.67" stroke="#1a1a1a" stroke-width="1.6" />
<line x1="1140" y1="312" x2="1150" y2="312" stroke="#1a1a1a" stroke-width="1.6" />
<text x="1135.6" y="320.18" font-size="21.9" text-anchor="end" >1.8</text>
<line x1="1269.1" y1="586" x2="1269.1" y2="593" stroke="#1a1a1a" stroke-width="1.8" />
<text x="1155.7" y="337.9" font-size="20.4" text-anchor="start" font-weight="bold">D</text>
<polyline points="1269.5,333.6 1269.5,330.5 1343.5,330.5 1343.5,333.6" fill="none" stroke="#111" stroke-width="1.2"/>
<text x="1307.05" y="333.05" font-size="18.6" letter-spacing="1.1" text-anchor="middle">***</text>
<polyline points="1194.5,378.6 1194.5,375.5 1269.5,375.5 1269.5,378.6" fill="none" stroke="#111" stroke-width="1.2"/>
<text x="1232.55" y="378.95" font-size="18.6" letter-spacing="1.1" text-anchor="middle">**</text>
</g>
<g id="pE">
<line x1="265.05" y1="619.1" x2="265.05" y2="621.8" stroke="#383838" stroke-width="2.0" />
<line x1="265.05" y1="628.4" x2="265.05" y2="906" stroke="#383838" stroke-width="2.0" stroke-dasharray="8 6.19"/>
<line x1="148.5" y1="871.05" x2="148.5" y2="880.5" stroke="#1c1c1c" stroke-width="1.0" />
<line x1="148.5" y1="893.5" x2="148.5" y2="901.98" stroke="#1c1c1c" stroke-width="1.0" />
<rect x="135.5" y="880.5" width="26" height="13" fill="#7e9efb" stroke="#1c1c1c" stroke-width="1"/>
<line x1="135.5" y1="891.5" x2="161.5" y2="891.5" stroke="#2a2a2a" stroke-width="3" />
<circle cx="146.28" cy="871.05" r="2.5" fill="none" stroke="#000" stroke-opacity="0.5" stroke-width="1.1"/>
<circle cx="147.91" cy="871.74" r="2.5" fill="none" stroke="#000" stroke-opacity="0.5" stroke-width="1.1"/>
<circle cx="147.21" cy="881.05" r="2.5" fill="none" stroke="#000" stroke-opacity="0.5" stroke-width="1.1"/>
<circle cx="146.74" cy="891.05" r="2.5" fill="none" stroke="#000" stroke-opacity="0.5" stroke-width="1.1"/>
<circle cx="150.93" cy="894.3" r="2.5" fill="none" stroke="#000" stroke-opacity="0.5" stroke-width="1.1"/>
<circle cx="149.07" cy="901.51" r="2.5" fill="none" stroke="#000" stroke-opacity="0.5" stroke-width="1.1"/>
<circle cx="148.6" cy="888.02" r="3.3" fill="#000"/>
<line x1="176.5" y1="889.5" x2="202.5" y2="889.5" stroke="#2a2a2a" stroke-width="3" />
<circle cx="189.77" cy="721.74" r="2.75" fill="#747474" stroke="#484848" stroke-width="1"/>
<circle cx="189.77" cy="875.23" r="2.75" fill="#747474" stroke="#484848" stroke-width="1"/>
<circle cx="189.77" cy="903.84" r="2.75" fill="#747474" stroke="#484848" stroke-width="1"/>
<circle cx="192.56" cy="888.49" r="2.5" fill="none" stroke="#000" stroke-opacity="0.5" stroke-width="1.1"/>
<circle cx="189.77" cy="889.65" r="3.3" fill="#000"/>
<line x1="230.5" y1="863.6" x2="230.5" y2="875.5" stroke="#1c1c1c" stroke-width="1.0" />
<line x1="230.5" y1="891.5" x2="230.5" y2="900.81" stroke="#1c1c1c" stroke-width="1.0" />
<rect x="218.5" y="875.5" width="25" height="16" fill="#e5c064" stroke="#1c1c1c" stroke-width="1"/>
<line x1="218.5" y1="888" x2="243.5" y2="888" stroke="#2a2a2a" stroke-width="2.0" />
<circle cx="229.3" cy="863.6" r="2.5" fill="none" stroke="#000" stroke-opacity="0.5" stroke-width="1.1"/>
<circle cx="231.16" cy="864.3" r="2.5" fill="none" stroke="#000" stroke-opacity="0.5" stroke-width="1.1"/>
<circle cx="230.47" cy="874.07" r="2.5" fill="none" stroke="#000" stroke-opacity="0.5" stroke-width="1.1"/>
<circle cx="230.47" cy="895" r="2.5" fill="none" stroke="#000" stroke-opacity="0.5" stroke-width="1.1"/>
<circle cx="232.79" cy="900.81" r="2.5" fill="none" stroke="#000" stroke-opacity="0.5" stroke-width="1.1"/>
<circle cx="230.93" cy="884.07" r="3.3" fill="#000"/>
<line x1="302.5" y1="810.81" x2="302.5" y2="838.5" stroke="#1c1c1c" stroke-width="1.0" />
<line x1="302.5" y1="886.5" x2="302.5" y2="898.49" stroke="#1c1c1c" stroke-width="1.0" />
<rect x="290.5" y="838.5" width="25" height="48" fill="#7e9efb" stroke="#1c1c1c" stroke-width="1"/>
<line x1="290.5" y1="875" x2="315.5" y2="875" stroke="#2a2a2a" stroke-width="2.0" />
<circle cx="302.79" cy="748.95" r="2.75" fill="#747474" stroke="#484848" stroke-width="1"/>
<circle cx="305.35" cy="810.81" r="2.5" fill="none" stroke="#000" stroke-opacity="0.5" stroke-width="1.1"/>
<circle cx="302.09" cy="830.58" r="2.5" fill="none" stroke="#000" stroke-opacity="0.5" stroke-width="1.1"/>
<circle cx="300.23" cy="835" r="2.5" fill="none" stroke="#000" stroke-opacity="0.5" stroke-width="1.1"/>
<circle cx="305.35" cy="842.67" r="2.5" fill="none" stroke="#000" stroke-opacity="0.5" stroke-width="1.1"/>
<circle cx="304.88" cy="853.37" r="2.5" fill="none" stroke="#000" stroke-opacity="0.5" stroke-width="1.1"/>
<circle cx="299.77" cy="859.42" r="2.5" fill="none" stroke="#000" stroke-opacity="0.5" stroke-width="1.1"/>
<circle cx="300.93" cy="874.07" r="2.5" fill="none" stroke="#000" stroke-opacity="0.5" stroke-width="1.1"/>
<circle cx="302.56" cy="879.88" r="2.5" fill="none" stroke="#000" stroke-opacity="0.5" stroke-width="1.1"/>
<circle cx="304.88" cy="882.21" r="2.5" fill="none" stroke="#000" stroke-opacity="0.5" stroke-width="1.1"/>
<circle cx="301.86" cy="883.84" r="2.5" fill="none" stroke="#000" stroke-opacity="0.5" stroke-width="1.1"/>
<circle cx="301.4" cy="893.84" r="2.5" fill="none" stroke="#000" stroke-opacity="0.5" stroke-width="1.1"/>
<circle cx="304.19" cy="895" r="2.5" fill="none" stroke="#000" stroke-opacity="0.5" stroke-width="1.1"/>
<circle cx="303.72" cy="898.02" r="2.5" fill="none" stroke="#000" stroke-opacity="0.5" stroke-width="1.1"/>
<circle cx="302.79" cy="866.63" r="3.3" fill="#000"/>
<line x1="343.5" y1="848.49" x2="343.5" y2="873.5" stroke="#1c1c1c" stroke-width="1.0" />
<line x1="343.5" y1="895.5" x2="343.5" y2="901.98" stroke="#1c1c1c" stroke-width="1.0" />
<rect x="331.5" y="873.5" width="25" height="22" fill="#f44e4e" stroke="#1c1c1c" stroke-width="1"/>
<line x1="331.5" y1="891.5" x2="356.5" y2="891.5" stroke="#2a2a2a" stroke-width="3" />
<circle cx="343.72" cy="755" r="2.75" fill="#747474" stroke="#484848" stroke-width="1"/>
<circle cx="343.02" cy="848.49" r="2.5" fill="none" stroke="#000" stroke-opacity="0.5" stroke-width="1.1"/>
<circle cx="342.33" cy="862.44" r="2.5" fill="none" stroke="#000" stroke-opacity="0.5" stroke-width="1.1"/>
<circle cx="342.09" cy="874.07" r="2.5" fill="none" stroke="#000" stroke-opacity="0.5" stroke-width="1.1"/>
<circle cx="346.74" cy="882.21" r="2.5" fill="none" stroke="#000" stroke-opacity="0.5" stroke-width="1.1"/>
<circle cx="342.09" cy="892.67" r="2.5" fill="none" stroke="#000" stroke-opacity="0.5" stroke-width="1.1"/>
<circle cx="345.58" cy="893.84" r="2.5" fill="none" stroke="#000" stroke-opacity="0.5" stroke-width="1.1"/>
<circle cx="343.26" cy="900.81" r="2.5" fill="none" stroke="#000" stroke-opacity="0.5" stroke-width="1.1"/>
<circle cx="345.58" cy="900.81" r="2.5" fill="none" stroke="#000" stroke-opacity="0.5" stroke-width="1.1"/>
<circle cx="343.72" cy="901.98" r="2.5" fill="none" stroke="#000" stroke-opacity="0.5" stroke-width="1.1"/>
<circle cx="343.72" cy="886.16" r="3.3" fill="#000"/>
<line x1="384.5" y1="790.81" x2="384.5" y2="824.5" stroke="#1c1c1c" stroke-width="1.0" />
<line x1="384.5" y1="882.5" x2="384.5" y2="895.47" stroke="#1c1c1c" stroke-width="1.0" />
<rect x="372.5" y="824.5" width="25" height="58" fill="#e5c064" stroke="#1c1c1c" stroke-width="1"/>
<line x1="372.5" y1="868.5" x2="397.5" y2="868.5" stroke="#2a2a2a" stroke-width="3" />
<circle cx="385.12" cy="715.93" r="2.75" fill="#747474" stroke="#484848" stroke-width="1"/>
<circle cx="383.49" cy="790.81" r="2.5" fill="none" stroke="#000" stroke-opacity="0.5" stroke-width="1.1"/>
<circle cx="385.12" cy="814.77" r="2.5" fill="none" stroke="#000" stroke-opacity="0.5" stroke-width="1.1"/>
<circle cx="385.58" cy="819.42" r="2.5" fill="none" stroke="#000" stroke-opacity="0.5" stroke-width="1.1"/>
<circle cx="382.79" cy="829.19" r="2.5" fill="none" stroke="#000" stroke-opacity="0.5" stroke-width="1.1"/>
<circle cx="387.44" cy="841.74" r="2.5" fill="none" stroke="#000" stroke-opacity="0.5" stroke-width="1.1"/>
<circle cx="383.49" cy="848.95" r="2.5" fill="none" stroke="#000" stroke-opacity="0.5" stroke-width="1.1"/>
<circle cx="383.95" cy="867.79" r="2.5" fill="none" stroke="#000" stroke-opacity="0.5" stroke-width="1.1"/>
<circle cx="383.95" cy="874.07" r="2.5" fill="none" stroke="#000" stroke-opacity="0.5" stroke-width="1.1"/>
<circle cx="385.12" cy="878.72" r="2.5" fill="none" stroke="#000" stroke-opacity="0.5" stroke-width="1.1"/>
<circle cx="382.79" cy="885.7" r="2.5" fill="none" stroke="#000" stroke-opacity="0.5" stroke-width="1.1"/>
<circle cx="383.95" cy="891.05" r="2.5" fill="none" stroke="#000" stroke-opacity="0.5" stroke-width="1.1"/>
<circle cx="387.44" cy="894.53" r="2.5" fill="none" stroke="#000" stroke-opacity="0.5" stroke-width="1.1"/>
<circle cx="383.49" cy="895.47" r="2.5" fill="none" stroke="#000" stroke-opacity="0.5" stroke-width="1.1"/>
<circle cx="385.12" cy="858.26" r="3.3" fill="#000"/>
<line x1="456.5" y1="874.07" x2="456.5" y2="887.5" stroke="#1c1c1c" stroke-width="1.0" />
<line x1="456.5" y1="899.5" x2="456.5" y2="903.14" stroke="#1c1c1c" stroke-width="1.0" />
<rect x="444.5" y="887.5" width="25" height="12" fill="#7e9efb" stroke="#1c1c1c" stroke-width="1"/>
<line x1="444.5" y1="894" x2="469.5" y2="894" stroke="#2a2a2a" stroke-width="2.0" />
<circle cx="456.98" cy="850.81" r="2.75" fill="#747474" stroke="#484848" stroke-width="1"/>
<circle cx="455.35" cy="874.3" r="2.5" fill="none" stroke="#000" stroke-opacity="0.5" stroke-width="1.1"/>
<circle cx="454.88" cy="886.86" r="2.5" fill="none" stroke="#000" stroke-opacity="0.5" stroke-width="1.1"/>
<circle cx="458.37" cy="889.19" r="2.5" fill="none" stroke="#000" stroke-opacity="0.5" stroke-width="1.1"/>
<circle cx="454.88" cy="897.33" r="2.5" fill="none" stroke="#000" stroke-opacity="0.5" stroke-width="1.1"/>
<circle cx="457.21" cy="900.81" r="2.5" fill="none" stroke="#000" stroke-opacity="0.5" stroke-width="1.1"/>
<circle cx="458.84" cy="903.14" r="2.5" fill="none" stroke="#000" stroke-opacity="0.5" stroke-width="1.1"/>
<circle cx="456.98" cy="894.3" r="3.3" fill="#000"/>
<line x1="497.5" y1="833.14" x2="497.5" y2="865.5" stroke="#1c1c1c" stroke-width="1.0" />
<line x1="497.5" y1="898.5" x2="497.5" y2="900.81" stroke="#1c1c1c" stroke-width="1.0" />
<rect x="485.5" y="865.5" width="25" height="33" fill="#f44e4e" stroke="#1c1c1c" stroke-width="1"/>
<line x1="485.5" y1="896.5" x2="510.5" y2="896.5" stroke="#2a2a2a" stroke-width="3" />
<circle cx="500.47" cy="833.14" r="2.5" fill="none" stroke="#000" stroke-opacity="0.5" stroke-width="1.1"/>
<circle cx="498.84" cy="856.16" r="2.5" fill="none" stroke="#000" stroke-opacity="0.5" stroke-width="1.1"/>
<circle cx="495.58" cy="861.98" r="2.5" fill="none" stroke="#000" stroke-opacity="0.5" stroke-width="1.1"/>
<circle cx="497.21" cy="872.91" r="2.5" fill="none" stroke="#000" stroke-opacity="0.5" stroke-width="1.1"/>
<circle cx="498.37" cy="894.53" r="2.5" fill="none" stroke="#000" stroke-opacity="0.5" stroke-width="1.1"/>
<circle cx="500.23" cy="899.65" r="2.5" fill="none" stroke="#000" stroke-opacity="0.5" stroke-width="1.1"/>
<circle cx="495.58" cy="900.81" r="2.5" fill="none" stroke="#000" stroke-opacity="0.5" stroke-width="1.1"/>
<circle cx="496.74" cy="900.81" r="2.5" fill="none" stroke="#000" stroke-opacity="0.5" stroke-width="1.1"/>
<circle cx="498.14" cy="884.53" r="3.3" fill="#000"/>
<line x1="538.5" y1="867.56" x2="538.5" y2="883.5" stroke="#1c1c1c" stroke-width="1.0" />
<line x1="538.5" y1="897.5" x2="538.5" y2="902.44" stroke="#1c1c1c" stroke-width="1.0" />
<rect x="526.5" y="883.5" width="25" height="14" fill="#e5c064" stroke="#1c1c1c" stroke-width="1"/>
<line x1="526.5" y1="891" x2="551.5" y2="891" stroke="#2a2a2a" stroke-width="2.0" />
<circle cx="539.07" cy="838.95" r="2.75" fill="#747474" stroke="#484848" stroke-width="1"/>
<circle cx="539.07" cy="867.56" r="2.5" fill="none" stroke="#000" stroke-opacity="0.5" stroke-width="1.1"/>
<circle cx="538.6" cy="881.05" r="2.5" fill="none" stroke="#000" stroke-opacity="0.5" stroke-width="1.1"/>
<circle cx="540.93" cy="885.7" r="2.5" fill="none" stroke="#000" stroke-opacity="0.5" stroke-width="1.1"/>
<circle cx="536.28" cy="898.49" r="2.5" fill="none" stroke="#000" stroke-opacity="0.5" stroke-width="1.1"/>
<circle cx="539.77" cy="899.65" r="2.5" fill="none" stroke="#000" stroke-opacity="0.5" stroke-width="1.1"/>
<circle cx="541.63" cy="901.98" r="2.5" fill="none" stroke="#000" stroke-opacity="0.5" stroke-width="1.1"/>
<circle cx="539.07" cy="891.98" r="3.3" fill="#000"/>
<line x1="598.5" y1="895.5" x2="623.5" y2="895.5" stroke="#2a2a2a" stroke-width="3.2" />
<circle cx="610.93" cy="868.49" r="2.75" fill="#747474" stroke="#484848" stroke-width="1"/>
<circle cx="610.93" cy="879.42" r="2.75" fill="#747474" stroke="#484848" stroke-width="1"/>
<circle cx="610.7" cy="903.6" r="2.75" fill="#747474" stroke="#484848" stroke-width="1"/>
<circle cx="608.37" cy="898.49" r="2.5" fill="none" stroke="#000" stroke-opacity="0.5" stroke-width="1.1"/>
<circle cx="613.02" cy="895" r="2.5" fill="none" stroke="#000" stroke-opacity="0.5" stroke-width="1.1"/>
<circle cx="610.7" cy="895.93" r="3.3" fill="#000"/>
<line x1="651.5" y1="889.88" x2="651.5" y2="894.5" stroke="#1c1c1c" stroke-width="1.0" />
<line x1="651.5" y1="903.5" x2="651.5" y2="905.47" stroke="#1c1c1c" stroke-width="1.0" />
<rect x="639.5" y="894.5" width="25" height="9" fill="#f44e4e" stroke="#1c1c1c" stroke-width="1"/>
<line x1="639.5" y1="900" x2="664.5" y2="900" stroke="#2a2a2a" stroke-width="2.0" />
<circle cx="653.95" cy="888.95" r="2.5" fill="none" stroke="#000" stroke-opacity="0.5" stroke-width="1.1"/>
<circle cx="650.23" cy="892.67" r="2.5" fill="none" stroke="#000" stroke-opacity="0.5" stroke-width="1.1"/>
<circle cx="649.07" cy="901.98" r="2.5" fill="none" stroke="#000" stroke-opacity="0.5" stroke-width="1.1"/>
<circle cx="654.88" cy="902.67" r="2.5" fill="none" stroke="#000" stroke-opacity="0.5" stroke-width="1.1"/>
<circle cx="651.86" cy="899.19" r="3.3" fill="#000"/>
<rect x="680.5" y="891.5" width="26" height="4" fill="#e5c064" stroke="#1c1c1c" stroke-width="1"/>
<line x1="680.5" y1="894" x2="706.5" y2="894" stroke="#2a2a2a" stroke-width="2.0" />
<circle cx="693.02" cy="860.58" r="2.75" fill="#747474" stroke="#484848" stroke-width="1"/>
<circle cx="693.02" cy="873.37" r="2.75" fill="#747474" stroke="#484848" stroke-width="1"/>
<circle cx="693.02" cy="902.67" r="2.75" fill="#747474" stroke="#484848" stroke-width="1"/>
<circle cx="692.09" cy="890.35" r="2.5" fill="none" stroke="#000" stroke-opacity="0.5" stroke-width="1.1"/>
<circle cx="690.93" cy="897.33" r="2.5" fill="none" stroke="#000" stroke-opacity="0.5" stroke-width="1.1"/>
<circle cx="692.79" cy="893.84" r="3.3" fill="#000"/>
<line x1="764.5" y1="879.88" x2="764.5" y2="883.5" stroke="#1c1c1c" stroke-width="1.0" />
<line x1="764.5" y1="894.5" x2="764.5" y2="901.98" stroke="#1c1c1c" stroke-width="1.0" />
<rect x="752.5" y="883.5" width="25" height="11" fill="#7e9efb" stroke="#1c1c1c" stroke-width="1"/>
<line x1="752.5" y1="891" x2="777.5" y2="891" stroke="#2a2a2a" stroke-width="2.0" />
<circle cx="765.12" cy="860.12" r="2.75" fill="#747474" stroke="#484848" stroke-width="1"/>
<circle cx="765.12" cy="866.63" r="2.75" fill="#747474" stroke="#484848" stroke-width="1"/>
<circle cx="763.26" cy="881.74" r="2.5" fill="none" stroke="#000" stroke-opacity="0.5" stroke-width="1.1"/>
<circle cx="766.74" cy="882.21" r="2.5" fill="none" stroke="#000" stroke-opacity="0.5" stroke-width="1.1"/>
<circle cx="764.88" cy="897.33" r="2.5" fill="none" stroke="#000" stroke-opacity="0.5" stroke-width="1.1"/>
<circle cx="767.21" cy="899.65" r="2.5" fill="none" stroke="#000" stroke-opacity="0.5" stroke-width="1.1"/>
<circle cx="764.88" cy="900.81" r="2.5" fill="none" stroke="#000" stroke-opacity="0.5" stroke-width="1.1"/>
<circle cx="765.12" cy="891.05" r="3.3" fill="#000"/>
<line x1="806.5" y1="872.91" x2="806.5" y2="877.5" stroke="#1c1c1c" stroke-width="1.0" />
<line x1="806.5" y1="890.5" x2="806.5" y2="894.53" stroke="#1c1c1c" stroke-width="1.0" />
<rect x="793.5" y="877.5" width="26" height="13" fill="#f44e4e" stroke="#1c1c1c" stroke-width="1"/>
<line x1="793.5" y1="882" x2="819.5" y2="882" stroke="#2a2a2a" stroke-width="2.0" />
<circle cx="806.28" cy="768.26" r="2.75" fill="#747474" stroke="#484848" stroke-width="1"/>
<circle cx="806.28" cy="852.67" r="2.75" fill="#747474" stroke="#484848" stroke-width="1"/>
<circle cx="806.74" cy="873.37" r="2.5" fill="none" stroke="#000" stroke-opacity="0.5" stroke-width="1.1"/>
<circle cx="805.58" cy="878.72" r="2.5" fill="none" stroke="#000" stroke-opacity="0.5" stroke-width="1.1"/>
<circle cx="804.42" cy="892.67" r="2.5" fill="none" stroke="#000" stroke-opacity="0.5" stroke-width="1.1"/>
<circle cx="807.91" cy="893.84" r="2.5" fill="none" stroke="#000" stroke-opacity="0.5" stroke-width="1.1"/>
<circle cx="806.28" cy="884.53" r="3.3" fill="#000"/>
<line x1="847.5" y1="874.53" x2="847.5" y2="878.5" stroke="#1c1c1c" stroke-width="1.0" />
<line x1="847.5" y1="891.5" x2="847.5" y2="900.81" stroke="#1c1c1c" stroke-width="1.0" />
<rect x="834.5" y="878.5" width="26" height="13" fill="#e5c064" stroke="#1c1c1c" stroke-width="1"/>
<line x1="834.5" y1="886" x2="860.5" y2="886" stroke="#2a2a2a" stroke-width="2.0" />
<circle cx="847.44" cy="850.12" r="2.75" fill="#747474" stroke="#484848" stroke-width="1"/>
<circle cx="847.44" cy="858.02" r="2.75" fill="#747474" stroke="#484848" stroke-width="1"/>
<circle cx="847.44" cy="875.93" r="2.5" fill="none" stroke="#000" stroke-opacity="0.5" stroke-width="1.1"/>
<circle cx="848.6" cy="878.72" r="2.5" fill="none" stroke="#000" stroke-opacity="0.5" stroke-width="1.1"/>
<circle cx="846.28" cy="895" r="2.5" fill="none" stroke="#000" stroke-opacity="0.5" stroke-width="1.1"/>
<circle cx="848.6" cy="897.33" r="2.5" fill="none" stroke="#000" stroke-opacity="0.5" stroke-width="1.1"/>
<circle cx="846.28" cy="900.12" r="2.5" fill="none" stroke="#000" stroke-opacity="0.5" stroke-width="1.1"/>
<circle cx="846.98" cy="887.56" r="3.3" fill="#000"/>
<line x1="919.5" y1="882.91" x2="919.5" y2="889.5" stroke="#1c1c1c" stroke-width="1.0" />
<line x1="919.5" y1="897.5" x2="919.5" y2="901.51" stroke="#1c1c1c" stroke-width="1.0" />
<rect x="906.5" y="889.5" width="26" height="8" fill="#7e9efb" stroke="#1c1c1c" stroke-width="1"/>
<line x1="906.5" y1="894" x2="932.5" y2="894" stroke="#2a2a2a" stroke-width="2.0" />
<circle cx="919.3" cy="869.19" r="2.75" fill="#747474" stroke="#484848" stroke-width="1"/>
<circle cx="918.37" cy="882.44" r="2.5" fill="none" stroke="#000" stroke-opacity="0.5" stroke-width="1.1"/>
<circle cx="920.7" cy="886.86" r="2.5" fill="none" stroke="#000" stroke-opacity="0.5" stroke-width="1.1"/>
<circle cx="917.21" cy="897.33" r="2.5" fill="none" stroke="#000" stroke-opacity="0.5" stroke-width="1.1"/>
<circle cx="921.86" cy="899.65" r="2.5" fill="none" stroke="#000" stroke-opacity="0.5" stroke-width="1.1"/>
<circle cx="918.37" cy="900.81" r="2.5" fill="none" stroke="#000" stroke-opacity="0.5" stroke-width="1.1"/>
<circle cx="919.3" cy="893.14" r="3.3" fill="#000"/>
<line x1="960.5" y1="879.88" x2="960.5" y2="887.5" stroke="#1c1c1c" stroke-width="1.0" />
<line x1="960.5" y1="897.5" x2="960.5" y2="900.81" stroke="#1c1c1c" stroke-width="1.0" />
<rect x="947.5" y="887.5" width="26" height="10" fill="#f44e4e" stroke="#1c1c1c" stroke-width="1"/>
<line x1="947.5" y1="896" x2="973.5" y2="896" stroke="#2a2a2a" stroke-width="2.0" />
<circle cx="960.23" cy="867.09" r="2.75" fill="#747474" stroke="#484848" stroke-width="1"/>
<circle cx="960.23" cy="869.42" r="2.75" fill="#747474" stroke="#484848" stroke-width="1"/>
<circle cx="959.77" cy="879.88" r="2.5" fill="none" stroke="#000" stroke-opacity="0.5" stroke-width="1.1"/>
<circle cx="961.4" cy="882.91" r="2.5" fill="none" stroke="#000" stroke-opacity="0.5" stroke-width="1.1"/>
<circle cx="957.91" cy="899.65" r="2.5" fill="none" stroke="#000" stroke-opacity="0.5" stroke-width="1.1"/>
<circle cx="962.56" cy="897.33" r="2.5" fill="none" stroke="#000" stroke-opacity="0.5" stroke-width="1.1"/>
<circle cx="957.91" cy="900.81" r="2.5" fill="none" stroke="#000" stroke-opacity="0.5" stroke-width="1.1"/>
<circle cx="960.47" cy="894.07" r="3.3" fill="#000"/>
<line x1="1001.5" y1="878.26" x2="1001.5" y2="885.5" stroke="#1c1c1c" stroke-width="1.0" />
<line x1="1001.5" y1="895.5" x2="1001.5" y2="899.65" stroke="#1c1c1c" stroke-width="1.0" />
<rect x="988.5" y="885.5" width="26" height="10" fill="#e5c064" stroke="#1c1c1c" stroke-width="1"/>
<line x1="988.5" y1="891" x2="1014.5" y2="891" stroke="#2a2a2a" stroke-width="2.0" />
<circle cx="1001.4" cy="861.51" r="2.75" fill="#747474" stroke="#484848" stroke-width="1"/>
<circle cx="1000.47" cy="878.02" r="2.5" fill="none" stroke="#000" stroke-opacity="0.5" stroke-width="1.1"/>
<circle cx="999.77" cy="882.91" r="2.5" fill="none" stroke="#000" stroke-opacity="0.5" stroke-width="1.1"/>
<circle cx="1003.26" cy="885.7" r="2.5" fill="none" stroke="#000" stroke-opacity="0.5" stroke-width="1.1"/>
<circle cx="999.77" cy="897.33" r="2.5" fill="none" stroke="#000" stroke-opacity="0.5" stroke-width="1.1"/>
<circle cx="1002.09" cy="899.19" r="2.5" fill="none" stroke="#000" stroke-opacity="0.5" stroke-width="1.1"/>
<circle cx="1001.4" cy="890.35" r="3.3" fill="#000"/>
<line x1="126" y1="615" x2="126" y2="908" stroke="#000" stroke-width="2" />
<line x1="1024" y1="615" x2="1024" y2="908" stroke="#000" stroke-width="2" />
<line x1="125" y1="616" x2="1025" y2="616" stroke="#000" stroke-width="2" />
<line x1="125" y1="907" x2="1025" y2="907" stroke="#000" stroke-width="2" />
<line x1="115" y1="906.7" x2="126" y2="906.7" stroke="#2b2b2b" stroke-width="2.7" />
<text x="99.2" y="915.07" font-size="21" text-anchor="end" >0</text>
<line x1="120.2" y1="887.3" x2="126" y2="887.3" stroke="#2b2b2b" stroke-width="2.7" />
<line x1="120.2" y1="867.9" x2="126" y2="867.9" stroke="#2b2b2b" stroke-width="2.7" />
<line x1="120.2" y1="848.5" x2="126" y2="848.5" stroke="#2b2b2b" stroke-width="2.7" />
<line x1="120.2" y1="829.1" x2="126" y2="829.1" stroke="#2b2b2b" stroke-width="2.7" />
<line x1="115" y1="809.7" x2="126" y2="809.7" stroke="#2b2b2b" stroke-width="2.7" />
<text x="110.3" y="817.17" font-size="21" text-anchor="end" >100</text>
<line x1="120.2" y1="790.3" x2="126" y2="790.3" stroke="#2b2b2b" stroke-width="2.7" />
<line x1="120.2" y1="770.9" x2="126" y2="770.9" stroke="#2b2b2b" stroke-width="2.7" />
<line x1="120.2" y1="751.5" x2="126" y2="751.5" stroke="#2b2b2b" stroke-width="2.7" />
<line x1="120.2" y1="732.1" x2="126" y2="732.1" stroke="#2b2b2b" stroke-width="2.7" />
<line x1="115" y1="712.7" x2="126" y2="712.7" stroke="#2b2b2b" stroke-width="2.7" />
<text x="110.3" y="720.17" font-size="21" text-anchor="end" >200</text>
<line x1="120.2" y1="693.3" x2="126" y2="693.3" stroke="#2b2b2b" stroke-width="2.7" />
<line x1="120.2" y1="673.9" x2="126" y2="673.9" stroke="#2b2b2b" stroke-width="2.7" />
<line x1="120.2" y1="654.5" x2="126" y2="654.5" stroke="#2b2b2b" stroke-width="2.7" />
<line x1="120.2" y1="635.1" x2="126" y2="635.1" stroke="#2b2b2b" stroke-width="2.7" />
<line x1="115" y1="615.7" x2="126" y2="615.7" stroke="#2b2b2b" stroke-width="2.7" />
<text x="110.3" y="623.17" font-size="21" text-anchor="end" >300</text>
<line x1="189.4" y1="907" x2="189.4" y2="917.8" stroke="#2b2b2b" stroke-width="2.8" />
<line x1="343.65" y1="907" x2="343.65" y2="917.8" stroke="#2b2b2b" stroke-width="2.8" />
<line x1="497.9" y1="907" x2="497.9" y2="917.8" stroke="#2b2b2b" stroke-width="2.8" />
<line x1="652.15" y1="907" x2="652.15" y2="917.8" stroke="#2b2b2b" stroke-width="2.8" />
<line x1="806.4" y1="907" x2="806.4" y2="917.8" stroke="#2b2b2b" stroke-width="2.8" />
<line x1="960.65" y1="907" x2="960.65" y2="917.8" stroke="#2b2b2b" stroke-width="2.8" />
<text x="135.6" y="639.9" font-size="20.4" text-anchor="start" font-weight="bold">E</text>
<text x="590.5" y="640.3" font-size="20.1" text-anchor="start" textLength="89.7" lengthAdjust="spacingAndGlyphs" xml:space="preserve">Treat:  ns</text>
<text x="590.5" y="668.2" font-size="20.1" text-anchor="start" textLength="144.7" lengthAdjust="spacingAndGlyphs" >Year: <tspan font-style="italic">P</tspan>= 0.002</text>
<text x="590.5" y="695.6" font-size="20.1" text-anchor="start" textLength="151.6" lengthAdjust="spacingAndGlyphs" >Treat x Year: ns</text>
<polyline points="343.5,778.2 343.5,776.5 385.5,776.5 385.5,778.2" fill="none" stroke="#111" stroke-width="1.2"/>
<text x="365.05" y="779.45" font-size="18.6" letter-spacing="1.1" text-anchor="middle">**</text>
<polyline points="652.5,841.2 652.5,839.5 693.5,839.5 693.5,841.2" fill="none" stroke="#111" stroke-width="1.2"/>
<text x="673.55" y="842.25" font-size="18.6" letter-spacing="1.1" text-anchor="middle">**</text>
<polyline points="765.5,841.2 765.5,839.5 806.5,839.5 806.5,841.2" fill="none" stroke="#111" stroke-width="1.2"/>
<text x="786.55" y="841.75" font-size="18.6" letter-spacing="1.1" text-anchor="middle">*</text>
</g>
<g id="pF">
<line x1="1195.5" y1="742.41" x2="1195.5" y2="799.5" stroke="#1c1c1c" stroke-width="1.0" />
<line x1="1195.5" y1="850.5" x2="1195.5" y2="865.21" stroke="#1c1c1c" stroke-width="1.0" />
<rect x="1179.5" y="799.5" width="33" height="51" fill="#7e9efb" stroke="#1c1c1c" stroke-width="1"/>
<line x1="1179.5" y1="833" x2="1212.5" y2="833" stroke="#2a2a2a" stroke-width="2.2" />
<circle cx="1196.04" cy="742.41" r="2.5" fill="none" stroke="#000" stroke-opacity="0.5" stroke-width="1.0"/>
<circle cx="1196.04" cy="772.93" r="2.5" fill="none" stroke="#000" stroke-opacity="0.5" stroke-width="1.0"/>
<circle cx="1195.85" cy="789.94" r="2.5" fill="none" stroke="#000" stroke-opacity="0.5" stroke-width="1.0"/>
<circle cx="1195.48" cy="796.41" r="2.5" fill="none" stroke="#000" stroke-opacity="0.5" stroke-width="1.0"/>
<circle cx="1195.85" cy="801.96" r="2.5" fill="none" stroke="#000" stroke-opacity="0.5" stroke-width="1.0"/>
<circle cx="1195.48" cy="812.13" r="2.5" fill="none" stroke="#000" stroke-opacity="0.5" stroke-width="1.0"/>
<circle cx="1195.85" cy="827.85" r="2.5" fill="none" stroke="#000" stroke-opacity="0.5" stroke-width="1.0"/>
<circle cx="1195.85" cy="833.03" r="2.5" fill="none" stroke="#000" stroke-opacity="0.5" stroke-width="1.0"/>
<circle cx="1195.48" cy="840.8" r="2.5" fill="none" stroke="#000" stroke-opacity="0.5" stroke-width="1.0"/>
<circle cx="1195.85" cy="843.01" r="2.5" fill="none" stroke="#000" stroke-opacity="0.5" stroke-width="1.0"/>
<circle cx="1195.85" cy="850.04" r="2.5" fill="none" stroke="#000" stroke-opacity="0.5" stroke-width="1.0"/>
<circle cx="1195.85" cy="851.89" r="2.5" fill="none" stroke="#000" stroke-opacity="0.5" stroke-width="1.0"/>
<circle cx="1195.85" cy="853.19" r="2.5" fill="none" stroke="#000" stroke-opacity="0.5" stroke-width="1.0"/>
<circle cx="1195.48" cy="865.21" r="2.5" fill="none" stroke="#000" stroke-opacity="0.5" stroke-width="1.0"/>
<circle cx="1195.85" cy="821.93" r="3.3" fill="#000"/>
<line x1="1270.5" y1="798.44" x2="1270.5" y2="820.5" stroke="#1c1c1c" stroke-width="1.0" />
<line x1="1270.5" y1="854.5" x2="1270.5" y2="868.54" stroke="#1c1c1c" stroke-width="1.0" />
<rect x="1253.5" y="820.5" width="34" height="34" fill="#f44e4e" stroke="#1c1c1c" stroke-width="1"/>
<line x1="1253.5" y1="837" x2="1287.5" y2="837" stroke="#2a2a2a" stroke-width="2.2" />
<circle cx="1270.2" cy="798.44" r="2.5" fill="none" stroke="#000" stroke-opacity="0.5" stroke-width="1.0"/>
<circle cx="1270.39" cy="804.36" r="2.5" fill="none" stroke="#000" stroke-opacity="0.5" stroke-width="1.0"/>
<circle cx="1270.76" cy="810.28" r="2.5" fill="none" stroke="#000" stroke-opacity="0.5" stroke-width="1.0"/>
<circle cx="1270.76" cy="818.6" r="2.5" fill="none" stroke="#000" stroke-opacity="0.5" stroke-width="1.0"/>
<circle cx="1270.94" cy="822.86" r="2.5" fill="none" stroke="#000" stroke-opacity="0.5" stroke-width="1.0"/>
<circle cx="1270.2" cy="830.62" r="2.5" fill="none" stroke="#000" stroke-opacity="0.5" stroke-width="1.0"/>
<circle cx="1270.02" cy="842.27" r="2.5" fill="none" stroke="#000" stroke-opacity="0.5" stroke-width="1.0"/>
<circle cx="1270.76" cy="851.89" r="2.5" fill="none" stroke="#000" stroke-opacity="0.5" stroke-width="1.0"/>
<circle cx="1270.2" cy="856.89" r="2.5" fill="none" stroke="#000" stroke-opacity="0.5" stroke-width="1.0"/>
<circle cx="1270.2" cy="861.14" r="2.5" fill="none" stroke="#000" stroke-opacity="0.5" stroke-width="1.0"/>
<circle cx="1270.2" cy="864.84" r="2.5" fill="none" stroke="#000" stroke-opacity="0.5" stroke-width="1.0"/>
<circle cx="1270.2" cy="868.17" r="2.5" fill="none" stroke="#000" stroke-opacity="0.5" stroke-width="1.0"/>
<circle cx="1270.2" cy="835.43" r="3.3" fill="#000"/>
<line x1="1344.5" y1="708.01" x2="1344.5" y2="776.5" stroke="#1c1c1c" stroke-width="1.0" />
<line x1="1344.5" y1="839.5" x2="1344.5" y2="856.52" stroke="#1c1c1c" stroke-width="1.0" />
<rect x="1327.5" y="776.5" width="34" height="63" fill="#e5c064" stroke="#1c1c1c" stroke-width="1"/>
<line x1="1327.5" y1="817.5" x2="1361.5" y2="817.5" stroke="#2a2a2a" stroke-width="2.6" />
<circle cx="1344.55" cy="708.01" r="2.5" fill="none" stroke="#000" stroke-opacity="0.5" stroke-width="1.0"/>
<circle cx="1344.36" cy="745.56" r="2.5" fill="none" stroke="#000" stroke-opacity="0.5" stroke-width="1.0"/>
<circle cx="1344.18" cy="765.53" r="2.5" fill="none" stroke="#000" stroke-opacity="0.5" stroke-width="1.0"/>
<circle cx="1344.36" cy="773.3" r="2.5" fill="none" stroke="#000" stroke-opacity="0.5" stroke-width="1.0"/>
<circle cx="1344.55" cy="773.66" r="2.5" fill="none" stroke="#000" stroke-opacity="0.5" stroke-width="1.0"/>
<circle cx="1344.92" cy="780.13" r="2.5" fill="none" stroke="#000" stroke-opacity="0.5" stroke-width="1.0"/>
<circle cx="1344.36" cy="792.52" r="2.5" fill="none" stroke="#000" stroke-opacity="0.5" stroke-width="1.0"/>
<circle cx="1344.55" cy="811.2" r="2.5" fill="none" stroke="#000" stroke-opacity="0.5" stroke-width="1.0"/>
<circle cx="1344.18" cy="817.68" r="2.5" fill="none" stroke="#000" stroke-opacity="0.5" stroke-width="1.0"/>
<circle cx="1344.55" cy="826" r="2.5" fill="none" stroke="#000" stroke-opacity="0.5" stroke-width="1.0"/>
<circle cx="1344.55" cy="830.07" r="2.5" fill="none" stroke="#000" stroke-opacity="0.5" stroke-width="1.0"/>
<circle cx="1344.92" cy="838.02" r="2.5" fill="none" stroke="#000" stroke-opacity="0.5" stroke-width="1.0"/>
<circle cx="1344.55" cy="841.17" r="2.5" fill="none" stroke="#000" stroke-opacity="0.5" stroke-width="1.0"/>
<circle cx="1344.55" cy="842.27" r="2.5" fill="none" stroke="#000" stroke-opacity="0.5" stroke-width="1.0"/>
<circle cx="1344.73" cy="856.52" r="2.5" fill="none" stroke="#000" stroke-opacity="0.5" stroke-width="1.0"/>
<circle cx="1344.55" cy="804.55" r="3.3" fill="#000"/>
<line x1="1151" y1="614" x2="1151" y2="907" stroke="#000" stroke-width="2" />
<line x1="1389.5" y1="614" x2="1389.5" y2="907" stroke="#000" stroke-width="3" />
<line x1="1150" y1="615.5" x2="1391" y2="615.5" stroke="#000" stroke-width="3" />
<line x1="1150" y1="906" x2="1391" y2="906" stroke="#000" stroke-width="2" />
<line x1="1141" y1="906.1" x2="1151" y2="906.1" stroke="#2b2b2b" stroke-width="2.7" />
<text x="1138.4" y="913.98" font-size="21.9" text-anchor="end" >0</text>
<line x1="1146" y1="857.58" x2="1151" y2="857.58" stroke="#2b2b2b" stroke-width="2.7" />
<line x1="1141" y1="809.27" x2="1151" y2="809.27" stroke="#2b2b2b" stroke-width="2.7" />
<text x="1138.4" y="817.15" font-size="21.9" text-anchor="end" >1</text>
<line x1="1146" y1="760.75" x2="1151" y2="760.75" stroke="#2b2b2b" stroke-width="2.7" />
<line x1="1141" y1="712.43" x2="1151" y2="712.43" stroke="#2b2b2b" stroke-width="2.7" />
<text x="1138.4" y="720.32" font-size="21.9" text-anchor="end" >2</text>
<line x1="1146" y1="663.92" x2="1151" y2="663.92" stroke="#2b2b2b" stroke-width="2.7" />
<line x1="1141" y1="615.6" x2="1151" y2="615.6" stroke="#2b2b2b" stroke-width="2.7" />
<text x="1138.4" y="623.48" font-size="21.9" text-anchor="end" >3</text>
<line x1="1270.5" y1="906" x2="1270.5" y2="913" stroke="#1a1a1a" stroke-width="2.8" />
<text x="1155.2" y="639.6" font-size="20.4" text-anchor="start" font-weight="bold">F</text>
<polyline points="1270.5,647.6 1270.5,644.5 1344.5,644.5 1344.5,647.6" fill="none" stroke="#111" stroke-width="1.2"/>
<text x="1308.05" y="647.45" font-size="18.6" letter-spacing="1.1" text-anchor="middle">*</text>
<polyline points="1195.5,690.6 1195.5,687.5 1270.5,687.5 1270.5,690.6" fill="none" stroke="#111" stroke-width="1.2"/>
<text x="1233" y="681.2" font-size="21.5" text-anchor="middle">ns</text>
</g>
<text transform="translate(27.4,185) rotate(-90)" font-size="20.1" textLength="71" lengthAdjust="spacingAndGlyphs" xml:space="preserve">NO flux</text>
<text transform="translate(62.8,217.35) rotate(-90)" font-size="20.1" textLength="136.7" lengthAdjust="spacingAndGlyphs" xml:space="preserve">(µg N m<tspan dy="-9.6" font-size="14.3">−2</tspan><tspan dy="9.6"> h</tspan><tspan dy="-9.6" font-size="14.3">−1</tspan><tspan dy="9.6">)</tspan></text>
<text transform="translate(25.1,490.8) rotate(-90)" font-size="20.1" textLength="79" lengthAdjust="spacingAndGlyphs" xml:space="preserve">N<tspan dy="2.8" font-size="14.6">2</tspan><tspan dy="-2.8">O flux</tspan></text>
<text transform="translate(60.9,519.75) rotate(-90)" font-size="20.1" textLength="136.3" lengthAdjust="spacingAndGlyphs" xml:space="preserve">(µg N m<tspan dy="-9.6" font-size="14.3">−2</tspan><tspan dy="9.6"> h</tspan><tspan dy="-9.6" font-size="14.3">−1</tspan><tspan dy="9.6">)</tspan></text>
<text transform="translate(21.4,792.7) rotate(-90)" font-size="20.1" textLength="63.4" lengthAdjust="spacingAndGlyphs" xml:space="preserve">N<tspan dy="2.8" font-size="14.6">2</tspan><tspan dy="-2.8"> flux</tspan></text>
<text transform="translate(57.7,827.4) rotate(-90)" font-size="20.1" textLength="133.2" lengthAdjust="spacingAndGlyphs" xml:space="preserve">(µg N m<tspan dy="-9.6" font-size="14.3">−2</tspan><tspan dy="9.6"> h</tspan><tspan dy="-9.6" font-size="14.3">−1</tspan><tspan dy="9.6">)</tspan></text>
<text transform="translate(1060.1,238) rotate(-90)" font-size="20.1" textLength="184.4" lengthAdjust="spacingAndGlyphs" xml:space="preserve">Cumulative NO flux</text>
<text transform="translate(1095,219.45) rotate(-90)" font-size="20.1" textLength="145.7" lengthAdjust="spacingAndGlyphs" xml:space="preserve">(kg N ha<tspan dy="-9.6" font-size="14.3">−1</tspan><tspan dy="9.6"> yr</tspan><tspan dy="-9.6" font-size="14.3">−1</tspan><tspan dy="9.6">)</tspan></text>
<text transform="translate(1057,544.9) rotate(-90)" font-size="20.1" textLength="192.4" lengthAdjust="spacingAndGlyphs" xml:space="preserve">Cumulative N<tspan dy="2.8" font-size="14.6">2</tspan><tspan dy="-2.8">O flux</tspan></text>
<text transform="translate(1092.5,521.05) rotate(-90)" font-size="20.1" textLength="145.7" lengthAdjust="spacingAndGlyphs" xml:space="preserve">(kg N ha<tspan dy="-9.6" font-size="14.3">−1</tspan><tspan dy="9.6"> yr</tspan><tspan dy="-9.6" font-size="14.3">−1</tspan><tspan dy="9.6">)</tspan></text>
<text transform="translate(1055.6,844.3) rotate(-90)" font-size="20.1" textLength="174.4" lengthAdjust="spacingAndGlyphs" xml:space="preserve">Cumulative N<tspan dy="2.8" font-size="14.6">2</tspan><tspan dy="-2.8"> flux</tspan></text>
<text transform="translate(1090.4,829.65) rotate(-90)" font-size="20.1" textLength="145.3" lengthAdjust="spacingAndGlyphs" xml:space="preserve">(kg N ha<tspan dy="-9.6" font-size="14.3">−1</tspan><tspan dy="9.6"> yr</tspan><tspan dy="-9.6" font-size="14.3">−1</tspan><tspan dy="9.6">)</tspan></text>
<text x="165.8" y="938.9" font-size="20.8" textLength="46.8" lengthAdjust="spacingAndGlyphs">2018</text>
<text x="319.9" y="938.9" font-size="20.8" textLength="46.8" lengthAdjust="spacingAndGlyphs">2019</text>
<text x="473.9" y="938.9" font-size="20.8" textLength="46.8" lengthAdjust="spacingAndGlyphs">2020</text>
<text x="627.6" y="938.9" font-size="20.8" textLength="46.8" lengthAdjust="spacingAndGlyphs">2021</text>
<text x="782.9" y="938.9" font-size="20.8" textLength="46.8" lengthAdjust="spacingAndGlyphs">2022</text>
<text x="936.8" y="938.9" font-size="20.8" textLength="46.8" lengthAdjust="spacingAndGlyphs">2023</text>
<text x="1221" y="936.9" font-size="20.8" textLength="102" lengthAdjust="spacingAndGlyphs">2019-2023</text>
</svg></body></html>
